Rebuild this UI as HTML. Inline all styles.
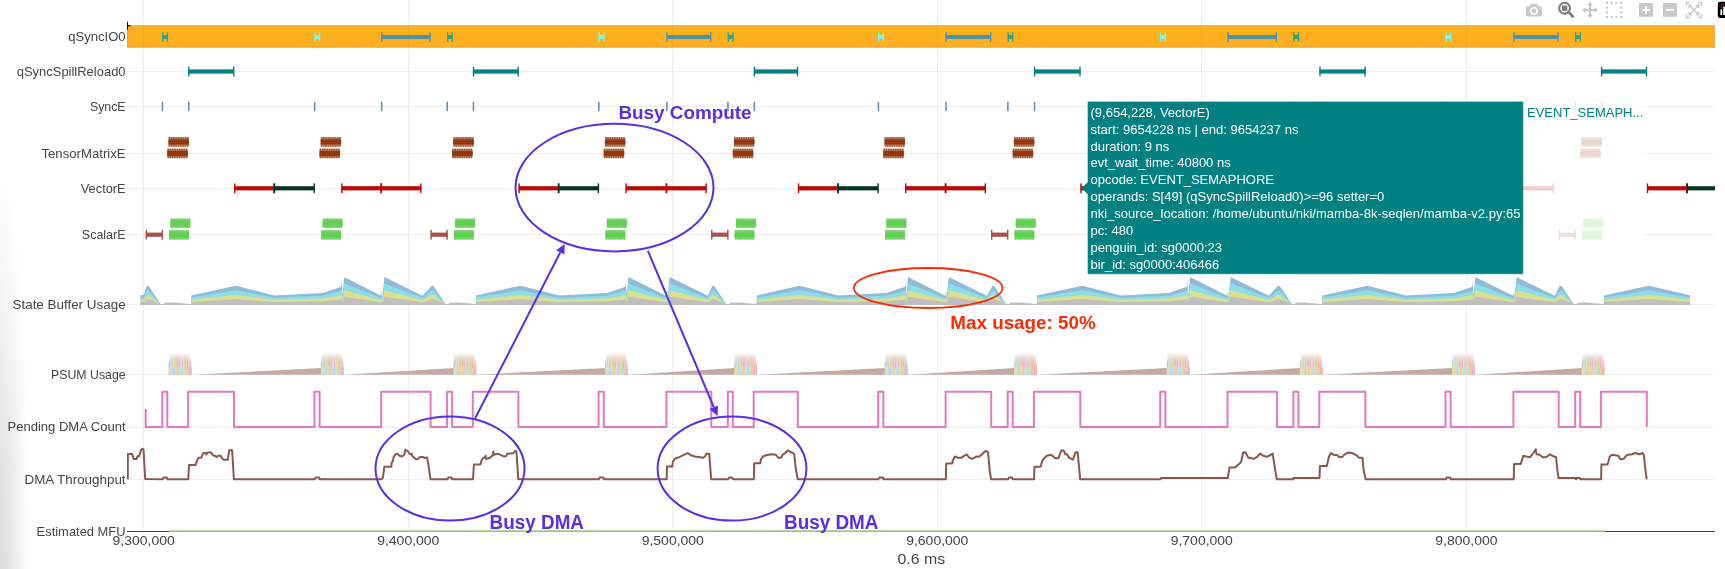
<!DOCTYPE html>
<html><head><meta charset="utf-8"><title>profile</title>
<style>
html,body{margin:0;padding:0;background:#fff;}
body{width:1725px;height:569px;overflow:hidden;position:relative;font-family:"Liberation Sans",sans-serif;}
#shade{position:absolute;left:0;top:150px;width:40px;height:419px;pointer-events:none;
 background:radial-gradient(ellipse 31px 410px at 0 100%, rgba(0,0,0,0.14) 0%, rgba(0,0,0,0.10) 30%, rgba(0,0,0,0.05) 62%, rgba(0,0,0,0.015) 85%, rgba(0,0,0,0) 100%);}
</style></head><body>
<svg width="1725" height="569" viewBox="0 0 1725 569" style="position:absolute;left:0;top:0;will-change:transform">
<defs>
<clipPath id="plot"><rect x="127" y="0" width="1588" height="540"/></clipPath>
<linearGradient id="fadeTop" x1="0" y1="0" x2="0" y2="1">
 <stop offset="0" stop-color="#fff" stop-opacity="0.95"/>
 <stop offset="0.1" stop-color="#fff" stop-opacity="0.65"/>
 <stop offset="0.25" stop-color="#fff" stop-opacity="0.28"/>
 <stop offset="0.4" stop-color="#fff" stop-opacity="0.06"/>
 <stop offset="0.5" stop-color="#fff" stop-opacity="0"/>
</linearGradient>
</defs>
<rect width="1725" height="569" fill="#fff"/>
<g fill="#eeeeee" shape-rendering="crispEdges">
<rect x="143" y="0" width="1" height="531"/>
<rect x="408" y="0" width="1" height="531"/>
<rect x="672" y="0" width="1" height="531"/>
<rect x="937" y="0" width="1" height="531"/>
<rect x="1201" y="0" width="1" height="531"/>
<rect x="1466" y="0" width="1" height="531"/>
<rect x="127" y="71" width="1588" height="1"/>
<rect x="127" y="106" width="1588" height="1"/>
<rect x="127" y="153" width="1588" height="1"/>
<rect x="127" y="188" width="1588" height="1"/>
<rect x="127" y="234" width="1588" height="1"/>
<rect x="127" y="304" width="1588" height="1"/>
<rect x="127" y="374" width="1588" height="1"/>
<rect x="127" y="427" width="1588" height="1"/>
<rect x="127" y="479" width="1588" height="1"/>
</g>
<g font-family="'Liberation Sans', sans-serif" font-size="12.6" fill="#444">
<text x="68.2" y="41.45" textLength="57.4" lengthAdjust="spacingAndGlyphs">qSyncIO0</text>
<text x="16.7" y="75.95" textLength="108.9" lengthAdjust="spacingAndGlyphs">qSyncSpillReload0</text>
<text x="89.9" y="110.95" textLength="35.7" lengthAdjust="spacingAndGlyphs">SyncE</text>
<text x="41.4" y="157.85" textLength="84.2" lengthAdjust="spacingAndGlyphs">TensorMatrixE</text>
<text x="80.8" y="192.75" textLength="44.8" lengthAdjust="spacingAndGlyphs">VectorE</text>
<text x="81.8" y="239.15" textLength="43.8" lengthAdjust="spacingAndGlyphs">ScalarE</text>
<text x="12.5" y="309.05" textLength="113.1" lengthAdjust="spacingAndGlyphs">State Buffer Usage</text>
<text x="51" y="379.15" textLength="74.6" lengthAdjust="spacingAndGlyphs">PSUM Usage</text>
<text x="7.5" y="431.45" textLength="118.1" lengthAdjust="spacingAndGlyphs">Pending DMA Count</text>
<text x="24.5" y="483.75" textLength="101.1" lengthAdjust="spacingAndGlyphs">DMA Throughput</text>
<text x="36.6" y="535.65" textLength="89" lengthAdjust="spacingAndGlyphs">Estimated MFU</text>
</g>
<g font-family="'Liberation Sans', sans-serif" font-size="12.6" fill="#444" text-anchor="middle">
<text x="143.7" y="544.9" textLength="62.2" lengthAdjust="spacingAndGlyphs">9,300,000</text>
<text x="408.3" y="544.9" textLength="62.2" lengthAdjust="spacingAndGlyphs">9,400,000</text>
<text x="672.8" y="544.9" textLength="62.2" lengthAdjust="spacingAndGlyphs">9,500,000</text>
<text x="937.3" y="544.9" textLength="62.2" lengthAdjust="spacingAndGlyphs">9,600,000</text>
<text x="1201.8" y="544.9" textLength="62.2" lengthAdjust="spacingAndGlyphs">9,700,000</text>
<text x="1466.4" y="544.9" textLength="62.2" lengthAdjust="spacingAndGlyphs">9,800,000</text>
</g>
<text x="921.3" y="563.9" font-family="'Liberation Sans', sans-serif" font-size="14.6" fill="#444" text-anchor="middle" textLength="47.7" lengthAdjust="spacingAndGlyphs">0.6 ms</text>
<g clip-path="url(#plot)">
<path d="M140.5,305L140.5,304.6L140.5,295.1L144,295.1L146.6,285.9L148.6,285.9L160.9,304.6L163.5,304.6L165,304.6L174,304.6L190.7,304.6L190.9,304.6L191.2,304.6L191.2,295.4L234.7,285.9L237.1,285.9L274.5,295.5L322.5,293L324.2,292.4L341.2,286.7L341.6,280.6L342,287.6L342.7,295.6L344.2,277L380.9,295.8L381.7,290.6L382.2,298.6L384.4,277L422.6,295.8L431.6,285.9L433.6,285.9L445.8,304.6L448.3,304.6L449.8,304.6L458.8,304.6L475.4,304.6L475.6,304.6L475.9,304.6L475.9,295.4L519.1,285.9L521.5,285.9L558.9,295.5L606.7,293L608.4,292.4L625.4,286.7L625.8,280.6L626.2,287.6L626.9,295.6L628.4,277L666.1,295.8L666.9,290.6L667.4,298.6L669.6,277L707.8,295.8L712.3,285.9L714.3,285.9L726.5,304.6L729,304.6L730.5,304.6L739.5,304.6L756.3,304.6L756.5,304.6L756.8,304.6L756.8,295.4L798.5,285.9L800.9,285.9L838.3,295.5L886.3,293L888,292.4L905,286.7L905.4,280.6L905.8,287.6L906.5,295.6L908,277L945.3,295.8L946.1,290.6L946.6,298.6L948.8,277L987,295.8L992.2,285.9L994.2,285.9L1006.4,304.6L1008.9,304.6L1010.4,304.6L1019.4,304.6L1036.5,304.6L1036.7,304.6L1037,304.6L1037,295.4L1081,285.9L1083.4,285.9L1120.8,295.5L1168.3,293L1170,292.4L1187,286.7L1187.4,280.6L1187.8,287.6L1188.5,295.6L1190,277L1227.2,295.8L1228,290.6L1228.5,298.6L1230.7,277L1268.9,295.8L1277.9,285.9L1279.9,285.9L1292.1,304.6L1294.6,304.6L1296.1,304.6L1305.1,304.6L1321.9,304.6L1322.1,304.6L1322.4,304.6L1322.4,295.4L1366.1,285.9L1368.5,285.9L1405.9,295.5L1453.6,293L1455.3,292.4L1472.3,286.7L1472.7,280.6L1473.1,287.6L1473.8,295.6L1475.3,277L1513.1,295.8L1513.9,290.6L1514.4,298.6L1516.6,277L1554.8,295.8L1559.7,285.9L1561.7,285.9L1573.9,304.6L1576.4,304.6L1577.9,304.6L1586.9,304.6L1603.5,304.6L1603.7,304.6L1604,304.6L1604,295.4L1647.5,285.9L1649.9,285.9L1689.9,295.3L1689.9,304.6L1689.9,305Z" fill="#8fbbd9"/>
<path d="M140.5,305L140.5,304.6L140.5,297.38L144,297.38L146.6,290.39L148.6,290.39L160.9,304.6L163.5,304.6L165,304.6L174,304.6L190.7,304.6L190.9,304.6L191.2,304.6L191.2,297.61L234.7,290.39L237.1,290.39L274.5,297.68L322.5,295.78L324.2,295.33L341.2,291L341.6,286.36L342,291.68L342.7,297.76L344.2,283.62L380.9,297.91L381.7,293.96L382.2,300.04L384.4,283.62L422.6,297.91L431.6,290.39L433.6,290.39L445.8,304.6L448.3,304.6L449.8,304.6L458.8,304.6L475.4,304.6L475.6,304.6L475.9,304.6L475.9,297.61L519.1,290.39L521.5,290.39L558.9,297.68L606.7,295.78L608.4,295.33L625.4,291L625.8,286.36L626.2,291.68L626.9,297.76L628.4,283.62L666.1,297.91L666.9,293.96L667.4,300.04L669.6,283.62L707.8,297.91L712.3,290.39L714.3,290.39L726.5,304.6L729,304.6L730.5,304.6L739.5,304.6L756.3,304.6L756.5,304.6L756.8,304.6L756.8,297.61L798.5,290.39L800.9,290.39L838.3,297.68L886.3,295.78L888,295.33L905,291L905.4,286.36L905.8,291.68L906.5,297.76L908,283.62L945.3,297.91L946.1,293.96L946.6,300.04L948.8,283.62L987,297.91L992.2,290.39L994.2,290.39L1006.4,304.6L1008.9,304.6L1010.4,304.6L1019.4,304.6L1036.5,304.6L1036.7,304.6L1037,304.6L1037,297.61L1081,290.39L1083.4,290.39L1120.8,297.68L1168.3,295.78L1170,295.33L1187,291L1187.4,286.36L1187.8,291.68L1188.5,297.76L1190,283.62L1227.2,297.91L1228,293.96L1228.5,300.04L1230.7,283.62L1268.9,297.91L1277.9,290.39L1279.9,290.39L1292.1,304.6L1294.6,304.6L1296.1,304.6L1305.1,304.6L1321.9,304.6L1322.1,304.6L1322.4,304.6L1322.4,297.61L1366.1,290.39L1368.5,290.39L1405.9,297.68L1453.6,295.78L1455.3,295.33L1472.3,291L1472.7,286.36L1473.1,291.68L1473.8,297.76L1475.3,283.62L1513.1,297.91L1513.9,293.96L1514.4,300.04L1516.6,283.62L1554.8,297.91L1559.7,290.39L1561.7,290.39L1573.9,304.6L1576.4,304.6L1577.9,304.6L1586.9,304.6L1603.5,304.6L1603.7,304.6L1604,304.6L1604,297.61L1647.5,290.39L1649.9,290.39L1689.9,297.53L1689.9,304.6L1689.9,305Z" fill="#8bdee7"/>
<path d="M140.5,305L140.5,304.6L140.5,299.66L144,299.66L146.6,294.88L148.6,294.88L160.9,304.6L163.5,304.6L165,304.6L174,304.6L190.7,304.6L190.9,304.6L191.2,304.6L191.2,299.82L234.7,294.88L237.1,294.88L274.5,299.87L322.5,298.57L324.2,298.26L341.2,295.29L341.6,292.12L342,295.76L342.7,299.92L344.2,290.25L380.9,300.02L381.7,297.32L382.2,301.48L384.4,290.25L422.6,300.02L431.6,294.88L433.6,294.88L445.8,304.6L448.3,304.6L449.8,304.6L458.8,304.6L475.4,304.6L475.6,304.6L475.9,304.6L475.9,299.82L519.1,294.88L521.5,294.88L558.9,299.87L606.7,298.57L608.4,298.26L625.4,295.29L625.8,292.12L626.2,295.76L626.9,299.92L628.4,290.25L666.1,300.02L666.9,297.32L667.4,301.48L669.6,290.25L707.8,300.02L712.3,294.88L714.3,294.88L726.5,304.6L729,304.6L730.5,304.6L739.5,304.6L756.3,304.6L756.5,304.6L756.8,304.6L756.8,299.82L798.5,294.88L800.9,294.88L838.3,299.87L886.3,298.57L888,298.26L905,295.29L905.4,292.12L905.8,295.76L906.5,299.92L908,290.25L945.3,300.02L946.1,297.32L946.6,301.48L948.8,290.25L987,300.02L992.2,294.88L994.2,294.88L1006.4,304.6L1008.9,304.6L1010.4,304.6L1019.4,304.6L1036.5,304.6L1036.7,304.6L1037,304.6L1037,299.82L1081,294.88L1083.4,294.88L1120.8,299.87L1168.3,298.57L1170,298.26L1187,295.29L1187.4,292.12L1187.8,295.76L1188.5,299.92L1190,290.25L1227.2,300.02L1228,297.32L1228.5,301.48L1230.7,290.25L1268.9,300.02L1277.9,294.88L1279.9,294.88L1292.1,304.6L1294.6,304.6L1296.1,304.6L1305.1,304.6L1321.9,304.6L1322.1,304.6L1322.4,304.6L1322.4,299.82L1366.1,294.88L1368.5,294.88L1405.9,299.87L1453.6,298.57L1455.3,298.26L1472.3,295.29L1472.7,292.12L1473.1,295.76L1473.8,299.92L1475.3,290.25L1513.1,300.02L1513.9,297.32L1514.4,301.48L1516.6,290.25L1554.8,300.02L1559.7,294.88L1561.7,294.88L1573.9,304.6L1576.4,304.6L1577.9,304.6L1586.9,304.6L1603.5,304.6L1603.7,304.6L1604,304.6L1604,299.82L1647.5,294.88L1649.9,294.88L1689.9,299.76L1689.9,304.6L1689.9,305Z" fill="#dddf90"/>
<path d="M140.5,305L140.5,304.6L140.5,301.94L144,301.94L146.6,299.36L148.6,299.36L160.9,303.9L163.5,304.2L165,302.4L174,302.6L190.7,304.1L190.9,304.6L191.2,304.6L191.2,302.02L234.7,299.36L237.1,299.36L274.5,302.05L322.5,301.35L324.2,301.18L341.2,299.59L341.6,297.88L342,299.84L342.7,302.08L344.2,296.87L380.9,302.14L381.7,300.68L382.2,302.92L384.4,296.87L422.6,302.14L431.6,299.36L433.6,299.36L445.8,303.9L448.3,304.2L449.8,302.4L458.8,302.6L475.4,304.1L475.6,304.6L475.9,304.6L475.9,302.02L519.1,299.36L521.5,299.36L558.9,302.05L606.7,301.35L608.4,301.18L625.4,299.59L625.8,297.88L626.2,299.84L626.9,302.08L628.4,296.87L666.1,302.14L666.9,300.68L667.4,302.92L669.6,296.87L707.8,302.14L712.3,299.36L714.3,299.36L726.5,303.9L729,304.2L730.5,302.4L739.5,302.6L756.3,304.1L756.5,304.6L756.8,304.6L756.8,302.02L798.5,299.36L800.9,299.36L838.3,302.05L886.3,301.35L888,301.18L905,299.59L905.4,297.88L905.8,299.84L906.5,302.08L908,296.87L945.3,302.14L946.1,300.68L946.6,302.92L948.8,296.87L987,302.14L992.2,299.36L994.2,299.36L1006.4,303.9L1008.9,304.2L1010.4,302.4L1019.4,302.6L1036.5,304.1L1036.7,304.6L1037,304.6L1037,302.02L1081,299.36L1083.4,299.36L1120.8,302.05L1168.3,301.35L1170,301.18L1187,299.59L1187.4,297.88L1187.8,299.84L1188.5,302.08L1190,296.87L1227.2,302.14L1228,300.68L1228.5,302.92L1230.7,296.87L1268.9,302.14L1277.9,299.36L1279.9,299.36L1292.1,303.9L1294.6,304.2L1296.1,302.4L1305.1,302.6L1321.9,304.1L1322.1,304.6L1322.4,304.6L1322.4,302.02L1366.1,299.36L1368.5,299.36L1405.9,302.05L1453.6,301.35L1455.3,301.18L1472.3,299.59L1472.7,297.88L1473.1,299.84L1473.8,302.08L1475.3,296.87L1513.1,302.14L1513.9,300.68L1514.4,302.92L1516.6,296.87L1554.8,302.14L1559.7,299.36L1561.7,299.36L1573.9,303.9L1576.4,304.2L1577.9,302.4L1586.9,302.6L1603.5,304.1L1603.7,304.6L1604,304.6L1604,302.02L1647.5,299.36L1649.9,299.36L1689.9,302L1689.9,304.6L1689.9,305Z" fill="#bfbfbf"/>
<path d="M192.1,374.7 L321.1,368 L321.1,374.7Z" fill="#c5aaa4"/>
<path d="M344.3,374.7 L453.7,368 L453.7,374.7Z" fill="#c5aaa4"/>
<path d="M476.9,374.7 L605.3,368 L605.3,374.7Z" fill="#c5aaa4"/>
<path d="M628.5,374.7 L734.4,368 L734.4,374.7Z" fill="#c5aaa4"/>
<path d="M757.6,374.7 L884.9,368 L884.9,374.7Z" fill="#c5aaa4"/>
<path d="M908.1,374.7 L1014.3,368 L1014.3,374.7Z" fill="#c5aaa4"/>
<path d="M1037.5,374.7 L1166.9,368 L1166.9,374.7Z" fill="#c5aaa4"/>
<path d="M1190.1,374.7 L1300,368 L1300,374.7Z" fill="#c5aaa4"/>
<path d="M1323.2,374.7 L1452.2,368 L1452.2,374.7Z" fill="#c5aaa4"/>
<path d="M1475.4,374.7 L1581.8,368 L1581.8,374.7Z" fill="#c5aaa4"/>
<g opacity="0.78">
<rect x="168.6" y="353.6" width="1.69" height="21.1" fill="#c9b2ad"/>
<rect x="168.6" y="353.6" width="1.69" height="7.5" fill="#d9c2bc" opacity="0.6"/>
<path d="M168.6,374.7 L168.8,367.6 L169.91,365.6 L170.29,374.7Z" fill="#dbdb8d"/>
<rect x="170.24" y="353.6" width="1.69" height="21.1" fill="#9edae5"/>
<rect x="170.24" y="353.6" width="1.69" height="7.5" fill="#aec7e8" opacity="0.6"/>
<path d="M170.24,374.7 L170.44,366.3 L171.56,364.3 L171.94,374.7Z" fill="#dbdb8d"/>
<rect x="171.89" y="353.6" width="1.69" height="21.1" fill="#aec7e8"/>
<rect x="171.89" y="353.6" width="1.69" height="7.5" fill="#ffbb78" opacity="0.6"/>
<path d="M171.89,374.7 L172.09,370.2 L173.2,368.2 L173.58,374.7Z" fill="#9edae5"/>
<rect x="173.53" y="353.6" width="1.69" height="21.1" fill="#ffbb78"/>
<rect x="173.53" y="353.6" width="1.69" height="7.5" fill="#98df8a" opacity="0.6"/>
<path d="M173.53,374.7 L173.73,368.9 L174.84,366.9 L175.22,374.7Z" fill="#aec7e8"/>
<rect x="175.17" y="353.6" width="1.69" height="21.1" fill="#98df8a"/>
<rect x="175.17" y="353.6" width="1.69" height="7.5" fill="#ff9896" opacity="0.6"/>
<path d="M175.17,374.7 L175.37,367.6 L176.49,365.6 L176.86,374.7Z" fill="#dbdb8d"/>
<rect x="176.81" y="353.6" width="1.69" height="21.1" fill="#ff9896"/>
<rect x="176.81" y="353.6" width="1.69" height="7.5" fill="#d9c2bc" opacity="0.6"/>
<path d="M176.81,374.7 L177.01,366.3 L178.13,364.3 L178.51,374.7Z" fill="#ffbb78"/>
<rect x="178.46" y="353.6" width="1.69" height="21.1" fill="#c5b0d5"/>
<rect x="178.46" y="353.6" width="1.69" height="7.5" fill="#c9b2ad" opacity="0.6"/>
<path d="M178.46,374.7 L178.66,370.2 L179.77,368.2 L180.15,374.7Z" fill="#dbdb8d"/>
<rect x="180.1" y="353.6" width="1.69" height="21.1" fill="#f7b6d2"/>
<rect x="180.1" y="353.6" width="1.69" height="7.5" fill="#c9b2ad" opacity="0.6"/>
<path d="M180.1,374.7 L180.3,368.9 L181.41,366.9 L181.79,374.7Z" fill="#9edae5"/>
<rect x="181.74" y="353.6" width="1.69" height="21.1" fill="#c5b0d5"/>
<rect x="181.74" y="353.6" width="1.69" height="7.5" fill="#ffbb78" opacity="0.6"/>
<path d="M181.74,374.7 L181.94,367.6 L183.06,365.6 L183.44,374.7Z" fill="#9edae5"/>
<rect x="183.39" y="353.6" width="1.69" height="21.1" fill="#ffbb78"/>
<rect x="183.39" y="353.6" width="1.69" height="7.5" fill="#98df8a" opacity="0.6"/>
<path d="M183.39,374.7 L183.59,366.3 L184.7,364.3 L185.08,374.7Z" fill="#dbdb8d"/>
<rect x="185.03" y="353.6" width="1.69" height="21.1" fill="#98df8a"/>
<rect x="185.03" y="353.6" width="1.69" height="7.5" fill="#ff9896" opacity="0.6"/>
<path d="M185.03,374.7 L185.23,370.2 L186.34,368.2 L186.72,374.7Z" fill="#aec7e8"/>
<rect x="186.67" y="353.6" width="1.69" height="21.1" fill="#ff9896"/>
<rect x="186.67" y="353.6" width="1.69" height="7.5" fill="#f7b6d2" opacity="0.6"/>
<path d="M186.67,374.7 L186.87,368.9 L187.99,366.9 L188.36,374.7Z" fill="#ffbb78"/>
<rect x="188.31" y="353.6" width="1.69" height="21.1" fill="#ffbb78"/>
<rect x="188.31" y="353.6" width="1.69" height="7.5" fill="#c5b0d5" opacity="0.6"/>
<path d="M188.31,374.7 L188.51,367.6 L189.63,365.6 L190.01,374.7Z" fill="#ff9896"/>
<rect x="189.96" y="353.6" width="1.69" height="21.1" fill="#c5b0d5"/>
<rect x="189.96" y="353.6" width="1.69" height="7.5" fill="#e6dff0" opacity="0.6"/>
<path d="M189.96,374.7 L190.16,366.3 L191.27,364.3 L191.65,374.7Z" fill="#c5b0d5"/>
<rect x="168.1" y="353.1" width="24" height="21.6" fill="url(#fadeTop)"/>
<path d="M168.3,366.7 L168.3,352.6 L170.8,352.6Z" fill="#fff" opacity="0.85"/>
<path d="M191.9,368.7 L191.9,352.6 L189,352.6Z" fill="#fff" opacity="0.85"/>
</g>
<g opacity="0.78">
<rect x="320.8" y="353.6" width="1.69" height="21.1" fill="#c9b2ad"/>
<rect x="320.8" y="353.6" width="1.69" height="7.5" fill="#d9c2bc" opacity="0.6"/>
<path d="M320.8,374.7 L321,367.6 L322.11,365.6 L322.49,374.7Z" fill="#dbdb8d"/>
<rect x="322.44" y="353.6" width="1.69" height="21.1" fill="#9edae5"/>
<rect x="322.44" y="353.6" width="1.69" height="7.5" fill="#aec7e8" opacity="0.6"/>
<path d="M322.44,374.7 L322.64,366.3 L323.76,364.3 L324.14,374.7Z" fill="#dbdb8d"/>
<rect x="324.09" y="353.6" width="1.69" height="21.1" fill="#aec7e8"/>
<rect x="324.09" y="353.6" width="1.69" height="7.5" fill="#ffbb78" opacity="0.6"/>
<path d="M324.09,374.7 L324.29,370.2 L325.4,368.2 L325.78,374.7Z" fill="#9edae5"/>
<rect x="325.73" y="353.6" width="1.69" height="21.1" fill="#ffbb78"/>
<rect x="325.73" y="353.6" width="1.69" height="7.5" fill="#98df8a" opacity="0.6"/>
<path d="M325.73,374.7 L325.93,368.9 L327.04,366.9 L327.42,374.7Z" fill="#aec7e8"/>
<rect x="327.37" y="353.6" width="1.69" height="21.1" fill="#98df8a"/>
<rect x="327.37" y="353.6" width="1.69" height="7.5" fill="#ff9896" opacity="0.6"/>
<path d="M327.37,374.7 L327.57,367.6 L328.69,365.6 L329.06,374.7Z" fill="#dbdb8d"/>
<rect x="329.01" y="353.6" width="1.69" height="21.1" fill="#ff9896"/>
<rect x="329.01" y="353.6" width="1.69" height="7.5" fill="#d9c2bc" opacity="0.6"/>
<path d="M329.01,374.7 L329.21,366.3 L330.33,364.3 L330.71,374.7Z" fill="#ffbb78"/>
<rect x="330.66" y="353.6" width="1.69" height="21.1" fill="#c5b0d5"/>
<rect x="330.66" y="353.6" width="1.69" height="7.5" fill="#c9b2ad" opacity="0.6"/>
<path d="M330.66,374.7 L330.86,370.2 L331.97,368.2 L332.35,374.7Z" fill="#dbdb8d"/>
<rect x="332.3" y="353.6" width="1.69" height="21.1" fill="#f7b6d2"/>
<rect x="332.3" y="353.6" width="1.69" height="7.5" fill="#c9b2ad" opacity="0.6"/>
<path d="M332.3,374.7 L332.5,368.9 L333.61,366.9 L333.99,374.7Z" fill="#9edae5"/>
<rect x="333.94" y="353.6" width="1.69" height="21.1" fill="#c5b0d5"/>
<rect x="333.94" y="353.6" width="1.69" height="7.5" fill="#ffbb78" opacity="0.6"/>
<path d="M333.94,374.7 L334.14,367.6 L335.26,365.6 L335.64,374.7Z" fill="#9edae5"/>
<rect x="335.59" y="353.6" width="1.69" height="21.1" fill="#ffbb78"/>
<rect x="335.59" y="353.6" width="1.69" height="7.5" fill="#98df8a" opacity="0.6"/>
<path d="M335.59,374.7 L335.79,366.3 L336.9,364.3 L337.28,374.7Z" fill="#dbdb8d"/>
<rect x="337.23" y="353.6" width="1.69" height="21.1" fill="#98df8a"/>
<rect x="337.23" y="353.6" width="1.69" height="7.5" fill="#ff9896" opacity="0.6"/>
<path d="M337.23,374.7 L337.43,370.2 L338.54,368.2 L338.92,374.7Z" fill="#aec7e8"/>
<rect x="338.87" y="353.6" width="1.69" height="21.1" fill="#ff9896"/>
<rect x="338.87" y="353.6" width="1.69" height="7.5" fill="#f7b6d2" opacity="0.6"/>
<path d="M338.87,374.7 L339.07,368.9 L340.19,366.9 L340.56,374.7Z" fill="#ffbb78"/>
<rect x="340.51" y="353.6" width="1.69" height="21.1" fill="#ffbb78"/>
<rect x="340.51" y="353.6" width="1.69" height="7.5" fill="#c5b0d5" opacity="0.6"/>
<path d="M340.51,374.7 L340.71,367.6 L341.83,365.6 L342.21,374.7Z" fill="#ff9896"/>
<rect x="342.16" y="353.6" width="1.69" height="21.1" fill="#c5b0d5"/>
<rect x="342.16" y="353.6" width="1.69" height="7.5" fill="#e6dff0" opacity="0.6"/>
<path d="M342.16,374.7 L342.36,366.3 L343.47,364.3 L343.85,374.7Z" fill="#c5b0d5"/>
<rect x="320.3" y="353.1" width="24" height="21.6" fill="url(#fadeTop)"/>
<path d="M320.5,366.7 L320.5,352.6 L323,352.6Z" fill="#fff" opacity="0.85"/>
<path d="M344.1,368.7 L344.1,352.6 L341.2,352.6Z" fill="#fff" opacity="0.85"/>
</g>
<g opacity="0.78">
<rect x="453.4" y="353.6" width="1.69" height="21.1" fill="#c9b2ad"/>
<rect x="453.4" y="353.6" width="1.69" height="7.5" fill="#d9c2bc" opacity="0.6"/>
<path d="M453.4,374.7 L453.6,367.6 L454.71,365.6 L455.09,374.7Z" fill="#dbdb8d"/>
<rect x="455.04" y="353.6" width="1.69" height="21.1" fill="#9edae5"/>
<rect x="455.04" y="353.6" width="1.69" height="7.5" fill="#aec7e8" opacity="0.6"/>
<path d="M455.04,374.7 L455.24,366.3 L456.36,364.3 L456.74,374.7Z" fill="#dbdb8d"/>
<rect x="456.69" y="353.6" width="1.69" height="21.1" fill="#aec7e8"/>
<rect x="456.69" y="353.6" width="1.69" height="7.5" fill="#ffbb78" opacity="0.6"/>
<path d="M456.69,374.7 L456.89,370.2 L458,368.2 L458.38,374.7Z" fill="#9edae5"/>
<rect x="458.33" y="353.6" width="1.69" height="21.1" fill="#ffbb78"/>
<rect x="458.33" y="353.6" width="1.69" height="7.5" fill="#98df8a" opacity="0.6"/>
<path d="M458.33,374.7 L458.53,368.9 L459.64,366.9 L460.02,374.7Z" fill="#aec7e8"/>
<rect x="459.97" y="353.6" width="1.69" height="21.1" fill="#98df8a"/>
<rect x="459.97" y="353.6" width="1.69" height="7.5" fill="#ff9896" opacity="0.6"/>
<path d="M459.97,374.7 L460.17,367.6 L461.29,365.6 L461.66,374.7Z" fill="#dbdb8d"/>
<rect x="461.61" y="353.6" width="1.69" height="21.1" fill="#ff9896"/>
<rect x="461.61" y="353.6" width="1.69" height="7.5" fill="#d9c2bc" opacity="0.6"/>
<path d="M461.61,374.7 L461.81,366.3 L462.93,364.3 L463.31,374.7Z" fill="#ffbb78"/>
<rect x="463.26" y="353.6" width="1.69" height="21.1" fill="#c5b0d5"/>
<rect x="463.26" y="353.6" width="1.69" height="7.5" fill="#c9b2ad" opacity="0.6"/>
<path d="M463.26,374.7 L463.46,370.2 L464.57,368.2 L464.95,374.7Z" fill="#dbdb8d"/>
<rect x="464.9" y="353.6" width="1.69" height="21.1" fill="#f7b6d2"/>
<rect x="464.9" y="353.6" width="1.69" height="7.5" fill="#c9b2ad" opacity="0.6"/>
<path d="M464.9,374.7 L465.1,368.9 L466.21,366.9 L466.59,374.7Z" fill="#9edae5"/>
<rect x="466.54" y="353.6" width="1.69" height="21.1" fill="#c5b0d5"/>
<rect x="466.54" y="353.6" width="1.69" height="7.5" fill="#ffbb78" opacity="0.6"/>
<path d="M466.54,374.7 L466.74,367.6 L467.86,365.6 L468.24,374.7Z" fill="#9edae5"/>
<rect x="468.19" y="353.6" width="1.69" height="21.1" fill="#ffbb78"/>
<rect x="468.19" y="353.6" width="1.69" height="7.5" fill="#98df8a" opacity="0.6"/>
<path d="M468.19,374.7 L468.39,366.3 L469.5,364.3 L469.88,374.7Z" fill="#dbdb8d"/>
<rect x="469.83" y="353.6" width="1.69" height="21.1" fill="#98df8a"/>
<rect x="469.83" y="353.6" width="1.69" height="7.5" fill="#ff9896" opacity="0.6"/>
<path d="M469.83,374.7 L470.03,370.2 L471.14,368.2 L471.52,374.7Z" fill="#aec7e8"/>
<rect x="471.47" y="353.6" width="1.69" height="21.1" fill="#ff9896"/>
<rect x="471.47" y="353.6" width="1.69" height="7.5" fill="#f7b6d2" opacity="0.6"/>
<path d="M471.47,374.7 L471.67,368.9 L472.79,366.9 L473.16,374.7Z" fill="#ffbb78"/>
<rect x="473.11" y="353.6" width="1.69" height="21.1" fill="#ffbb78"/>
<rect x="473.11" y="353.6" width="1.69" height="7.5" fill="#c5b0d5" opacity="0.6"/>
<path d="M473.11,374.7 L473.31,367.6 L474.43,365.6 L474.81,374.7Z" fill="#ff9896"/>
<rect x="474.76" y="353.6" width="1.69" height="21.1" fill="#c5b0d5"/>
<rect x="474.76" y="353.6" width="1.69" height="7.5" fill="#e6dff0" opacity="0.6"/>
<path d="M474.76,374.7 L474.96,366.3 L476.07,364.3 L476.45,374.7Z" fill="#c5b0d5"/>
<rect x="452.9" y="353.1" width="24" height="21.6" fill="url(#fadeTop)"/>
<path d="M453.1,366.7 L453.1,352.6 L455.6,352.6Z" fill="#fff" opacity="0.85"/>
<path d="M476.7,368.7 L476.7,352.6 L473.8,352.6Z" fill="#fff" opacity="0.85"/>
</g>
<g opacity="0.78">
<rect x="605" y="353.6" width="1.69" height="21.1" fill="#c9b2ad"/>
<rect x="605" y="353.6" width="1.69" height="7.5" fill="#d9c2bc" opacity="0.6"/>
<path d="M605,374.7 L605.2,367.6 L606.31,365.6 L606.69,374.7Z" fill="#dbdb8d"/>
<rect x="606.64" y="353.6" width="1.69" height="21.1" fill="#9edae5"/>
<rect x="606.64" y="353.6" width="1.69" height="7.5" fill="#aec7e8" opacity="0.6"/>
<path d="M606.64,374.7 L606.84,366.3 L607.96,364.3 L608.34,374.7Z" fill="#dbdb8d"/>
<rect x="608.29" y="353.6" width="1.69" height="21.1" fill="#aec7e8"/>
<rect x="608.29" y="353.6" width="1.69" height="7.5" fill="#ffbb78" opacity="0.6"/>
<path d="M608.29,374.7 L608.49,370.2 L609.6,368.2 L609.98,374.7Z" fill="#9edae5"/>
<rect x="609.93" y="353.6" width="1.69" height="21.1" fill="#ffbb78"/>
<rect x="609.93" y="353.6" width="1.69" height="7.5" fill="#98df8a" opacity="0.6"/>
<path d="M609.93,374.7 L610.13,368.9 L611.24,366.9 L611.62,374.7Z" fill="#aec7e8"/>
<rect x="611.57" y="353.6" width="1.69" height="21.1" fill="#98df8a"/>
<rect x="611.57" y="353.6" width="1.69" height="7.5" fill="#ff9896" opacity="0.6"/>
<path d="M611.57,374.7 L611.77,367.6 L612.89,365.6 L613.26,374.7Z" fill="#dbdb8d"/>
<rect x="613.21" y="353.6" width="1.69" height="21.1" fill="#ff9896"/>
<rect x="613.21" y="353.6" width="1.69" height="7.5" fill="#d9c2bc" opacity="0.6"/>
<path d="M613.21,374.7 L613.41,366.3 L614.53,364.3 L614.91,374.7Z" fill="#ffbb78"/>
<rect x="614.86" y="353.6" width="1.69" height="21.1" fill="#c5b0d5"/>
<rect x="614.86" y="353.6" width="1.69" height="7.5" fill="#c9b2ad" opacity="0.6"/>
<path d="M614.86,374.7 L615.06,370.2 L616.17,368.2 L616.55,374.7Z" fill="#dbdb8d"/>
<rect x="616.5" y="353.6" width="1.69" height="21.1" fill="#f7b6d2"/>
<rect x="616.5" y="353.6" width="1.69" height="7.5" fill="#c9b2ad" opacity="0.6"/>
<path d="M616.5,374.7 L616.7,368.9 L617.81,366.9 L618.19,374.7Z" fill="#9edae5"/>
<rect x="618.14" y="353.6" width="1.69" height="21.1" fill="#c5b0d5"/>
<rect x="618.14" y="353.6" width="1.69" height="7.5" fill="#ffbb78" opacity="0.6"/>
<path d="M618.14,374.7 L618.34,367.6 L619.46,365.6 L619.84,374.7Z" fill="#9edae5"/>
<rect x="619.79" y="353.6" width="1.69" height="21.1" fill="#ffbb78"/>
<rect x="619.79" y="353.6" width="1.69" height="7.5" fill="#98df8a" opacity="0.6"/>
<path d="M619.79,374.7 L619.99,366.3 L621.1,364.3 L621.48,374.7Z" fill="#dbdb8d"/>
<rect x="621.43" y="353.6" width="1.69" height="21.1" fill="#98df8a"/>
<rect x="621.43" y="353.6" width="1.69" height="7.5" fill="#ff9896" opacity="0.6"/>
<path d="M621.43,374.7 L621.63,370.2 L622.74,368.2 L623.12,374.7Z" fill="#aec7e8"/>
<rect x="623.07" y="353.6" width="1.69" height="21.1" fill="#ff9896"/>
<rect x="623.07" y="353.6" width="1.69" height="7.5" fill="#f7b6d2" opacity="0.6"/>
<path d="M623.07,374.7 L623.27,368.9 L624.39,366.9 L624.76,374.7Z" fill="#ffbb78"/>
<rect x="624.71" y="353.6" width="1.69" height="21.1" fill="#ffbb78"/>
<rect x="624.71" y="353.6" width="1.69" height="7.5" fill="#c5b0d5" opacity="0.6"/>
<path d="M624.71,374.7 L624.91,367.6 L626.03,365.6 L626.41,374.7Z" fill="#ff9896"/>
<rect x="626.36" y="353.6" width="1.69" height="21.1" fill="#c5b0d5"/>
<rect x="626.36" y="353.6" width="1.69" height="7.5" fill="#e6dff0" opacity="0.6"/>
<path d="M626.36,374.7 L626.56,366.3 L627.67,364.3 L628.05,374.7Z" fill="#c5b0d5"/>
<rect x="604.5" y="353.1" width="24" height="21.6" fill="url(#fadeTop)"/>
<path d="M604.7,366.7 L604.7,352.6 L607.2,352.6Z" fill="#fff" opacity="0.85"/>
<path d="M628.3,368.7 L628.3,352.6 L625.4,352.6Z" fill="#fff" opacity="0.85"/>
</g>
<g opacity="0.78">
<rect x="734.1" y="353.6" width="1.69" height="21.1" fill="#c9b2ad"/>
<rect x="734.1" y="353.6" width="1.69" height="7.5" fill="#d9c2bc" opacity="0.6"/>
<path d="M734.1,374.7 L734.3,367.6 L735.41,365.6 L735.79,374.7Z" fill="#dbdb8d"/>
<rect x="735.74" y="353.6" width="1.69" height="21.1" fill="#9edae5"/>
<rect x="735.74" y="353.6" width="1.69" height="7.5" fill="#aec7e8" opacity="0.6"/>
<path d="M735.74,374.7 L735.94,366.3 L737.06,364.3 L737.44,374.7Z" fill="#dbdb8d"/>
<rect x="737.39" y="353.6" width="1.69" height="21.1" fill="#aec7e8"/>
<rect x="737.39" y="353.6" width="1.69" height="7.5" fill="#ffbb78" opacity="0.6"/>
<path d="M737.39,374.7 L737.59,370.2 L738.7,368.2 L739.08,374.7Z" fill="#9edae5"/>
<rect x="739.03" y="353.6" width="1.69" height="21.1" fill="#ffbb78"/>
<rect x="739.03" y="353.6" width="1.69" height="7.5" fill="#98df8a" opacity="0.6"/>
<path d="M739.03,374.7 L739.23,368.9 L740.34,366.9 L740.72,374.7Z" fill="#aec7e8"/>
<rect x="740.67" y="353.6" width="1.69" height="21.1" fill="#98df8a"/>
<rect x="740.67" y="353.6" width="1.69" height="7.5" fill="#ff9896" opacity="0.6"/>
<path d="M740.67,374.7 L740.87,367.6 L741.99,365.6 L742.36,374.7Z" fill="#dbdb8d"/>
<rect x="742.31" y="353.6" width="1.69" height="21.1" fill="#ff9896"/>
<rect x="742.31" y="353.6" width="1.69" height="7.5" fill="#d9c2bc" opacity="0.6"/>
<path d="M742.31,374.7 L742.51,366.3 L743.63,364.3 L744.01,374.7Z" fill="#ffbb78"/>
<rect x="743.96" y="353.6" width="1.69" height="21.1" fill="#c5b0d5"/>
<rect x="743.96" y="353.6" width="1.69" height="7.5" fill="#c9b2ad" opacity="0.6"/>
<path d="M743.96,374.7 L744.16,370.2 L745.27,368.2 L745.65,374.7Z" fill="#dbdb8d"/>
<rect x="745.6" y="353.6" width="1.69" height="21.1" fill="#f7b6d2"/>
<rect x="745.6" y="353.6" width="1.69" height="7.5" fill="#c9b2ad" opacity="0.6"/>
<path d="M745.6,374.7 L745.8,368.9 L746.91,366.9 L747.29,374.7Z" fill="#9edae5"/>
<rect x="747.24" y="353.6" width="1.69" height="21.1" fill="#c5b0d5"/>
<rect x="747.24" y="353.6" width="1.69" height="7.5" fill="#ffbb78" opacity="0.6"/>
<path d="M747.24,374.7 L747.44,367.6 L748.56,365.6 L748.94,374.7Z" fill="#9edae5"/>
<rect x="748.89" y="353.6" width="1.69" height="21.1" fill="#ffbb78"/>
<rect x="748.89" y="353.6" width="1.69" height="7.5" fill="#98df8a" opacity="0.6"/>
<path d="M748.89,374.7 L749.09,366.3 L750.2,364.3 L750.58,374.7Z" fill="#dbdb8d"/>
<rect x="750.53" y="353.6" width="1.69" height="21.1" fill="#98df8a"/>
<rect x="750.53" y="353.6" width="1.69" height="7.5" fill="#ff9896" opacity="0.6"/>
<path d="M750.53,374.7 L750.73,370.2 L751.84,368.2 L752.22,374.7Z" fill="#aec7e8"/>
<rect x="752.17" y="353.6" width="1.69" height="21.1" fill="#ff9896"/>
<rect x="752.17" y="353.6" width="1.69" height="7.5" fill="#f7b6d2" opacity="0.6"/>
<path d="M752.17,374.7 L752.37,368.9 L753.49,366.9 L753.86,374.7Z" fill="#ffbb78"/>
<rect x="753.81" y="353.6" width="1.69" height="21.1" fill="#ffbb78"/>
<rect x="753.81" y="353.6" width="1.69" height="7.5" fill="#c5b0d5" opacity="0.6"/>
<path d="M753.81,374.7 L754.01,367.6 L755.13,365.6 L755.51,374.7Z" fill="#ff9896"/>
<rect x="755.46" y="353.6" width="1.69" height="21.1" fill="#c5b0d5"/>
<rect x="755.46" y="353.6" width="1.69" height="7.5" fill="#e6dff0" opacity="0.6"/>
<path d="M755.46,374.7 L755.66,366.3 L756.77,364.3 L757.15,374.7Z" fill="#c5b0d5"/>
<rect x="733.6" y="353.1" width="24" height="21.6" fill="url(#fadeTop)"/>
<path d="M733.8,366.7 L733.8,352.6 L736.3,352.6Z" fill="#fff" opacity="0.85"/>
<path d="M757.4,368.7 L757.4,352.6 L754.5,352.6Z" fill="#fff" opacity="0.85"/>
</g>
<g opacity="0.78">
<rect x="884.6" y="353.6" width="1.69" height="21.1" fill="#c9b2ad"/>
<rect x="884.6" y="353.6" width="1.69" height="7.5" fill="#d9c2bc" opacity="0.6"/>
<path d="M884.6,374.7 L884.8,367.6 L885.91,365.6 L886.29,374.7Z" fill="#dbdb8d"/>
<rect x="886.24" y="353.6" width="1.69" height="21.1" fill="#9edae5"/>
<rect x="886.24" y="353.6" width="1.69" height="7.5" fill="#aec7e8" opacity="0.6"/>
<path d="M886.24,374.7 L886.44,366.3 L887.56,364.3 L887.94,374.7Z" fill="#dbdb8d"/>
<rect x="887.89" y="353.6" width="1.69" height="21.1" fill="#aec7e8"/>
<rect x="887.89" y="353.6" width="1.69" height="7.5" fill="#ffbb78" opacity="0.6"/>
<path d="M887.89,374.7 L888.09,370.2 L889.2,368.2 L889.58,374.7Z" fill="#9edae5"/>
<rect x="889.53" y="353.6" width="1.69" height="21.1" fill="#ffbb78"/>
<rect x="889.53" y="353.6" width="1.69" height="7.5" fill="#98df8a" opacity="0.6"/>
<path d="M889.53,374.7 L889.73,368.9 L890.84,366.9 L891.22,374.7Z" fill="#aec7e8"/>
<rect x="891.17" y="353.6" width="1.69" height="21.1" fill="#98df8a"/>
<rect x="891.17" y="353.6" width="1.69" height="7.5" fill="#ff9896" opacity="0.6"/>
<path d="M891.17,374.7 L891.37,367.6 L892.49,365.6 L892.86,374.7Z" fill="#dbdb8d"/>
<rect x="892.81" y="353.6" width="1.69" height="21.1" fill="#ff9896"/>
<rect x="892.81" y="353.6" width="1.69" height="7.5" fill="#d9c2bc" opacity="0.6"/>
<path d="M892.81,374.7 L893.01,366.3 L894.13,364.3 L894.51,374.7Z" fill="#ffbb78"/>
<rect x="894.46" y="353.6" width="1.69" height="21.1" fill="#c5b0d5"/>
<rect x="894.46" y="353.6" width="1.69" height="7.5" fill="#c9b2ad" opacity="0.6"/>
<path d="M894.46,374.7 L894.66,370.2 L895.77,368.2 L896.15,374.7Z" fill="#dbdb8d"/>
<rect x="896.1" y="353.6" width="1.69" height="21.1" fill="#f7b6d2"/>
<rect x="896.1" y="353.6" width="1.69" height="7.5" fill="#c9b2ad" opacity="0.6"/>
<path d="M896.1,374.7 L896.3,368.9 L897.41,366.9 L897.79,374.7Z" fill="#9edae5"/>
<rect x="897.74" y="353.6" width="1.69" height="21.1" fill="#c5b0d5"/>
<rect x="897.74" y="353.6" width="1.69" height="7.5" fill="#ffbb78" opacity="0.6"/>
<path d="M897.74,374.7 L897.94,367.6 L899.06,365.6 L899.44,374.7Z" fill="#9edae5"/>
<rect x="899.39" y="353.6" width="1.69" height="21.1" fill="#ffbb78"/>
<rect x="899.39" y="353.6" width="1.69" height="7.5" fill="#98df8a" opacity="0.6"/>
<path d="M899.39,374.7 L899.59,366.3 L900.7,364.3 L901.08,374.7Z" fill="#dbdb8d"/>
<rect x="901.03" y="353.6" width="1.69" height="21.1" fill="#98df8a"/>
<rect x="901.03" y="353.6" width="1.69" height="7.5" fill="#ff9896" opacity="0.6"/>
<path d="M901.03,374.7 L901.23,370.2 L902.34,368.2 L902.72,374.7Z" fill="#aec7e8"/>
<rect x="902.67" y="353.6" width="1.69" height="21.1" fill="#ff9896"/>
<rect x="902.67" y="353.6" width="1.69" height="7.5" fill="#f7b6d2" opacity="0.6"/>
<path d="M902.67,374.7 L902.87,368.9 L903.99,366.9 L904.36,374.7Z" fill="#ffbb78"/>
<rect x="904.31" y="353.6" width="1.69" height="21.1" fill="#ffbb78"/>
<rect x="904.31" y="353.6" width="1.69" height="7.5" fill="#c5b0d5" opacity="0.6"/>
<path d="M904.31,374.7 L904.51,367.6 L905.63,365.6 L906.01,374.7Z" fill="#ff9896"/>
<rect x="905.96" y="353.6" width="1.69" height="21.1" fill="#c5b0d5"/>
<rect x="905.96" y="353.6" width="1.69" height="7.5" fill="#e6dff0" opacity="0.6"/>
<path d="M905.96,374.7 L906.16,366.3 L907.27,364.3 L907.65,374.7Z" fill="#c5b0d5"/>
<rect x="884.1" y="353.1" width="24" height="21.6" fill="url(#fadeTop)"/>
<path d="M884.3,366.7 L884.3,352.6 L886.8,352.6Z" fill="#fff" opacity="0.85"/>
<path d="M907.9,368.7 L907.9,352.6 L905,352.6Z" fill="#fff" opacity="0.85"/>
</g>
<g opacity="0.78">
<rect x="1014" y="353.6" width="1.69" height="21.1" fill="#c9b2ad"/>
<rect x="1014" y="353.6" width="1.69" height="7.5" fill="#d9c2bc" opacity="0.6"/>
<path d="M1014,374.7 L1014.2,367.6 L1015.31,365.6 L1015.69,374.7Z" fill="#dbdb8d"/>
<rect x="1015.64" y="353.6" width="1.69" height="21.1" fill="#9edae5"/>
<rect x="1015.64" y="353.6" width="1.69" height="7.5" fill="#aec7e8" opacity="0.6"/>
<path d="M1015.64,374.7 L1015.84,366.3 L1016.96,364.3 L1017.34,374.7Z" fill="#dbdb8d"/>
<rect x="1017.29" y="353.6" width="1.69" height="21.1" fill="#aec7e8"/>
<rect x="1017.29" y="353.6" width="1.69" height="7.5" fill="#ffbb78" opacity="0.6"/>
<path d="M1017.29,374.7 L1017.49,370.2 L1018.6,368.2 L1018.98,374.7Z" fill="#9edae5"/>
<rect x="1018.93" y="353.6" width="1.69" height="21.1" fill="#ffbb78"/>
<rect x="1018.93" y="353.6" width="1.69" height="7.5" fill="#98df8a" opacity="0.6"/>
<path d="M1018.93,374.7 L1019.13,368.9 L1020.24,366.9 L1020.62,374.7Z" fill="#aec7e8"/>
<rect x="1020.57" y="353.6" width="1.69" height="21.1" fill="#98df8a"/>
<rect x="1020.57" y="353.6" width="1.69" height="7.5" fill="#ff9896" opacity="0.6"/>
<path d="M1020.57,374.7 L1020.77,367.6 L1021.89,365.6 L1022.26,374.7Z" fill="#dbdb8d"/>
<rect x="1022.21" y="353.6" width="1.69" height="21.1" fill="#ff9896"/>
<rect x="1022.21" y="353.6" width="1.69" height="7.5" fill="#d9c2bc" opacity="0.6"/>
<path d="M1022.21,374.7 L1022.41,366.3 L1023.53,364.3 L1023.91,374.7Z" fill="#ffbb78"/>
<rect x="1023.86" y="353.6" width="1.69" height="21.1" fill="#c5b0d5"/>
<rect x="1023.86" y="353.6" width="1.69" height="7.5" fill="#c9b2ad" opacity="0.6"/>
<path d="M1023.86,374.7 L1024.06,370.2 L1025.17,368.2 L1025.55,374.7Z" fill="#dbdb8d"/>
<rect x="1025.5" y="353.6" width="1.69" height="21.1" fill="#f7b6d2"/>
<rect x="1025.5" y="353.6" width="1.69" height="7.5" fill="#c9b2ad" opacity="0.6"/>
<path d="M1025.5,374.7 L1025.7,368.9 L1026.81,366.9 L1027.19,374.7Z" fill="#9edae5"/>
<rect x="1027.14" y="353.6" width="1.69" height="21.1" fill="#c5b0d5"/>
<rect x="1027.14" y="353.6" width="1.69" height="7.5" fill="#ffbb78" opacity="0.6"/>
<path d="M1027.14,374.7 L1027.34,367.6 L1028.46,365.6 L1028.84,374.7Z" fill="#9edae5"/>
<rect x="1028.79" y="353.6" width="1.69" height="21.1" fill="#ffbb78"/>
<rect x="1028.79" y="353.6" width="1.69" height="7.5" fill="#98df8a" opacity="0.6"/>
<path d="M1028.79,374.7 L1028.99,366.3 L1030.1,364.3 L1030.48,374.7Z" fill="#dbdb8d"/>
<rect x="1030.43" y="353.6" width="1.69" height="21.1" fill="#98df8a"/>
<rect x="1030.43" y="353.6" width="1.69" height="7.5" fill="#ff9896" opacity="0.6"/>
<path d="M1030.43,374.7 L1030.63,370.2 L1031.74,368.2 L1032.12,374.7Z" fill="#aec7e8"/>
<rect x="1032.07" y="353.6" width="1.69" height="21.1" fill="#ff9896"/>
<rect x="1032.07" y="353.6" width="1.69" height="7.5" fill="#f7b6d2" opacity="0.6"/>
<path d="M1032.07,374.7 L1032.27,368.9 L1033.39,366.9 L1033.76,374.7Z" fill="#ffbb78"/>
<rect x="1033.71" y="353.6" width="1.69" height="21.1" fill="#ffbb78"/>
<rect x="1033.71" y="353.6" width="1.69" height="7.5" fill="#c5b0d5" opacity="0.6"/>
<path d="M1033.71,374.7 L1033.91,367.6 L1035.03,365.6 L1035.41,374.7Z" fill="#ff9896"/>
<rect x="1035.36" y="353.6" width="1.69" height="21.1" fill="#c5b0d5"/>
<rect x="1035.36" y="353.6" width="1.69" height="7.5" fill="#e6dff0" opacity="0.6"/>
<path d="M1035.36,374.7 L1035.56,366.3 L1036.67,364.3 L1037.05,374.7Z" fill="#c5b0d5"/>
<rect x="1013.5" y="353.1" width="24" height="21.6" fill="url(#fadeTop)"/>
<path d="M1013.7,366.7 L1013.7,352.6 L1016.2,352.6Z" fill="#fff" opacity="0.85"/>
<path d="M1037.3,368.7 L1037.3,352.6 L1034.4,352.6Z" fill="#fff" opacity="0.85"/>
</g>
<g opacity="0.78">
<rect x="1166.6" y="353.6" width="1.69" height="21.1" fill="#c9b2ad"/>
<rect x="1166.6" y="353.6" width="1.69" height="7.5" fill="#d9c2bc" opacity="0.6"/>
<path d="M1166.6,374.7 L1166.8,367.6 L1167.91,365.6 L1168.29,374.7Z" fill="#dbdb8d"/>
<rect x="1168.24" y="353.6" width="1.69" height="21.1" fill="#9edae5"/>
<rect x="1168.24" y="353.6" width="1.69" height="7.5" fill="#aec7e8" opacity="0.6"/>
<path d="M1168.24,374.7 L1168.44,366.3 L1169.56,364.3 L1169.94,374.7Z" fill="#dbdb8d"/>
<rect x="1169.89" y="353.6" width="1.69" height="21.1" fill="#aec7e8"/>
<rect x="1169.89" y="353.6" width="1.69" height="7.5" fill="#ffbb78" opacity="0.6"/>
<path d="M1169.89,374.7 L1170.09,370.2 L1171.2,368.2 L1171.58,374.7Z" fill="#9edae5"/>
<rect x="1171.53" y="353.6" width="1.69" height="21.1" fill="#ffbb78"/>
<rect x="1171.53" y="353.6" width="1.69" height="7.5" fill="#98df8a" opacity="0.6"/>
<path d="M1171.53,374.7 L1171.73,368.9 L1172.84,366.9 L1173.22,374.7Z" fill="#aec7e8"/>
<rect x="1173.17" y="353.6" width="1.69" height="21.1" fill="#98df8a"/>
<rect x="1173.17" y="353.6" width="1.69" height="7.5" fill="#ff9896" opacity="0.6"/>
<path d="M1173.17,374.7 L1173.37,367.6 L1174.49,365.6 L1174.86,374.7Z" fill="#dbdb8d"/>
<rect x="1174.81" y="353.6" width="1.69" height="21.1" fill="#ff9896"/>
<rect x="1174.81" y="353.6" width="1.69" height="7.5" fill="#d9c2bc" opacity="0.6"/>
<path d="M1174.81,374.7 L1175.01,366.3 L1176.13,364.3 L1176.51,374.7Z" fill="#ffbb78"/>
<rect x="1176.46" y="353.6" width="1.69" height="21.1" fill="#c5b0d5"/>
<rect x="1176.46" y="353.6" width="1.69" height="7.5" fill="#c9b2ad" opacity="0.6"/>
<path d="M1176.46,374.7 L1176.66,370.2 L1177.77,368.2 L1178.15,374.7Z" fill="#dbdb8d"/>
<rect x="1178.1" y="353.6" width="1.69" height="21.1" fill="#f7b6d2"/>
<rect x="1178.1" y="353.6" width="1.69" height="7.5" fill="#c9b2ad" opacity="0.6"/>
<path d="M1178.1,374.7 L1178.3,368.9 L1179.41,366.9 L1179.79,374.7Z" fill="#9edae5"/>
<rect x="1179.74" y="353.6" width="1.69" height="21.1" fill="#c5b0d5"/>
<rect x="1179.74" y="353.6" width="1.69" height="7.5" fill="#ffbb78" opacity="0.6"/>
<path d="M1179.74,374.7 L1179.94,367.6 L1181.06,365.6 L1181.44,374.7Z" fill="#9edae5"/>
<rect x="1181.39" y="353.6" width="1.69" height="21.1" fill="#ffbb78"/>
<rect x="1181.39" y="353.6" width="1.69" height="7.5" fill="#98df8a" opacity="0.6"/>
<path d="M1181.39,374.7 L1181.59,366.3 L1182.7,364.3 L1183.08,374.7Z" fill="#dbdb8d"/>
<rect x="1183.03" y="353.6" width="1.69" height="21.1" fill="#98df8a"/>
<rect x="1183.03" y="353.6" width="1.69" height="7.5" fill="#ff9896" opacity="0.6"/>
<path d="M1183.03,374.7 L1183.23,370.2 L1184.34,368.2 L1184.72,374.7Z" fill="#aec7e8"/>
<rect x="1184.67" y="353.6" width="1.69" height="21.1" fill="#ff9896"/>
<rect x="1184.67" y="353.6" width="1.69" height="7.5" fill="#f7b6d2" opacity="0.6"/>
<path d="M1184.67,374.7 L1184.87,368.9 L1185.99,366.9 L1186.36,374.7Z" fill="#ffbb78"/>
<rect x="1186.31" y="353.6" width="1.69" height="21.1" fill="#ffbb78"/>
<rect x="1186.31" y="353.6" width="1.69" height="7.5" fill="#c5b0d5" opacity="0.6"/>
<path d="M1186.31,374.7 L1186.51,367.6 L1187.63,365.6 L1188.01,374.7Z" fill="#ff9896"/>
<rect x="1187.96" y="353.6" width="1.69" height="21.1" fill="#c5b0d5"/>
<rect x="1187.96" y="353.6" width="1.69" height="7.5" fill="#e6dff0" opacity="0.6"/>
<path d="M1187.96,374.7 L1188.16,366.3 L1189.27,364.3 L1189.65,374.7Z" fill="#c5b0d5"/>
<rect x="1166.1" y="353.1" width="24" height="21.6" fill="url(#fadeTop)"/>
<path d="M1166.3,366.7 L1166.3,352.6 L1168.8,352.6Z" fill="#fff" opacity="0.85"/>
<path d="M1189.9,368.7 L1189.9,352.6 L1187,352.6Z" fill="#fff" opacity="0.85"/>
</g>
<g opacity="0.78">
<rect x="1299.7" y="353.6" width="1.69" height="21.1" fill="#c9b2ad"/>
<rect x="1299.7" y="353.6" width="1.69" height="7.5" fill="#d9c2bc" opacity="0.6"/>
<path d="M1299.7,374.7 L1299.9,367.6 L1301.01,365.6 L1301.39,374.7Z" fill="#dbdb8d"/>
<rect x="1301.34" y="353.6" width="1.69" height="21.1" fill="#9edae5"/>
<rect x="1301.34" y="353.6" width="1.69" height="7.5" fill="#aec7e8" opacity="0.6"/>
<path d="M1301.34,374.7 L1301.54,366.3 L1302.66,364.3 L1303.04,374.7Z" fill="#dbdb8d"/>
<rect x="1302.99" y="353.6" width="1.69" height="21.1" fill="#aec7e8"/>
<rect x="1302.99" y="353.6" width="1.69" height="7.5" fill="#ffbb78" opacity="0.6"/>
<path d="M1302.99,374.7 L1303.19,370.2 L1304.3,368.2 L1304.68,374.7Z" fill="#9edae5"/>
<rect x="1304.63" y="353.6" width="1.69" height="21.1" fill="#ffbb78"/>
<rect x="1304.63" y="353.6" width="1.69" height="7.5" fill="#98df8a" opacity="0.6"/>
<path d="M1304.63,374.7 L1304.83,368.9 L1305.94,366.9 L1306.32,374.7Z" fill="#aec7e8"/>
<rect x="1306.27" y="353.6" width="1.69" height="21.1" fill="#98df8a"/>
<rect x="1306.27" y="353.6" width="1.69" height="7.5" fill="#ff9896" opacity="0.6"/>
<path d="M1306.27,374.7 L1306.47,367.6 L1307.59,365.6 L1307.96,374.7Z" fill="#dbdb8d"/>
<rect x="1307.91" y="353.6" width="1.69" height="21.1" fill="#ff9896"/>
<rect x="1307.91" y="353.6" width="1.69" height="7.5" fill="#d9c2bc" opacity="0.6"/>
<path d="M1307.91,374.7 L1308.11,366.3 L1309.23,364.3 L1309.61,374.7Z" fill="#ffbb78"/>
<rect x="1309.56" y="353.6" width="1.69" height="21.1" fill="#c5b0d5"/>
<rect x="1309.56" y="353.6" width="1.69" height="7.5" fill="#c9b2ad" opacity="0.6"/>
<path d="M1309.56,374.7 L1309.76,370.2 L1310.87,368.2 L1311.25,374.7Z" fill="#dbdb8d"/>
<rect x="1311.2" y="353.6" width="1.69" height="21.1" fill="#f7b6d2"/>
<rect x="1311.2" y="353.6" width="1.69" height="7.5" fill="#c9b2ad" opacity="0.6"/>
<path d="M1311.2,374.7 L1311.4,368.9 L1312.51,366.9 L1312.89,374.7Z" fill="#9edae5"/>
<rect x="1312.84" y="353.6" width="1.69" height="21.1" fill="#c5b0d5"/>
<rect x="1312.84" y="353.6" width="1.69" height="7.5" fill="#ffbb78" opacity="0.6"/>
<path d="M1312.84,374.7 L1313.04,367.6 L1314.16,365.6 L1314.54,374.7Z" fill="#9edae5"/>
<rect x="1314.49" y="353.6" width="1.69" height="21.1" fill="#ffbb78"/>
<rect x="1314.49" y="353.6" width="1.69" height="7.5" fill="#98df8a" opacity="0.6"/>
<path d="M1314.49,374.7 L1314.69,366.3 L1315.8,364.3 L1316.18,374.7Z" fill="#dbdb8d"/>
<rect x="1316.13" y="353.6" width="1.69" height="21.1" fill="#98df8a"/>
<rect x="1316.13" y="353.6" width="1.69" height="7.5" fill="#ff9896" opacity="0.6"/>
<path d="M1316.13,374.7 L1316.33,370.2 L1317.44,368.2 L1317.82,374.7Z" fill="#aec7e8"/>
<rect x="1317.77" y="353.6" width="1.69" height="21.1" fill="#ff9896"/>
<rect x="1317.77" y="353.6" width="1.69" height="7.5" fill="#f7b6d2" opacity="0.6"/>
<path d="M1317.77,374.7 L1317.97,368.9 L1319.09,366.9 L1319.46,374.7Z" fill="#ffbb78"/>
<rect x="1319.41" y="353.6" width="1.69" height="21.1" fill="#ffbb78"/>
<rect x="1319.41" y="353.6" width="1.69" height="7.5" fill="#c5b0d5" opacity="0.6"/>
<path d="M1319.41,374.7 L1319.61,367.6 L1320.73,365.6 L1321.11,374.7Z" fill="#ff9896"/>
<rect x="1321.06" y="353.6" width="1.69" height="21.1" fill="#c5b0d5"/>
<rect x="1321.06" y="353.6" width="1.69" height="7.5" fill="#e6dff0" opacity="0.6"/>
<path d="M1321.06,374.7 L1321.26,366.3 L1322.37,364.3 L1322.75,374.7Z" fill="#c5b0d5"/>
<rect x="1299.2" y="353.1" width="24" height="21.6" fill="url(#fadeTop)"/>
<path d="M1299.4,366.7 L1299.4,352.6 L1301.9,352.6Z" fill="#fff" opacity="0.85"/>
<path d="M1323,368.7 L1323,352.6 L1320.1,352.6Z" fill="#fff" opacity="0.85"/>
</g>
<g opacity="0.78">
<rect x="1451.9" y="353.6" width="1.69" height="21.1" fill="#c9b2ad"/>
<rect x="1451.9" y="353.6" width="1.69" height="7.5" fill="#d9c2bc" opacity="0.6"/>
<path d="M1451.9,374.7 L1452.1,367.6 L1453.21,365.6 L1453.59,374.7Z" fill="#dbdb8d"/>
<rect x="1453.54" y="353.6" width="1.69" height="21.1" fill="#9edae5"/>
<rect x="1453.54" y="353.6" width="1.69" height="7.5" fill="#aec7e8" opacity="0.6"/>
<path d="M1453.54,374.7 L1453.74,366.3 L1454.86,364.3 L1455.24,374.7Z" fill="#dbdb8d"/>
<rect x="1455.19" y="353.6" width="1.69" height="21.1" fill="#aec7e8"/>
<rect x="1455.19" y="353.6" width="1.69" height="7.5" fill="#ffbb78" opacity="0.6"/>
<path d="M1455.19,374.7 L1455.39,370.2 L1456.5,368.2 L1456.88,374.7Z" fill="#9edae5"/>
<rect x="1456.83" y="353.6" width="1.69" height="21.1" fill="#ffbb78"/>
<rect x="1456.83" y="353.6" width="1.69" height="7.5" fill="#98df8a" opacity="0.6"/>
<path d="M1456.83,374.7 L1457.03,368.9 L1458.14,366.9 L1458.52,374.7Z" fill="#aec7e8"/>
<rect x="1458.47" y="353.6" width="1.69" height="21.1" fill="#98df8a"/>
<rect x="1458.47" y="353.6" width="1.69" height="7.5" fill="#ff9896" opacity="0.6"/>
<path d="M1458.47,374.7 L1458.67,367.6 L1459.79,365.6 L1460.16,374.7Z" fill="#dbdb8d"/>
<rect x="1460.11" y="353.6" width="1.69" height="21.1" fill="#ff9896"/>
<rect x="1460.11" y="353.6" width="1.69" height="7.5" fill="#d9c2bc" opacity="0.6"/>
<path d="M1460.11,374.7 L1460.31,366.3 L1461.43,364.3 L1461.81,374.7Z" fill="#ffbb78"/>
<rect x="1461.76" y="353.6" width="1.69" height="21.1" fill="#c5b0d5"/>
<rect x="1461.76" y="353.6" width="1.69" height="7.5" fill="#c9b2ad" opacity="0.6"/>
<path d="M1461.76,374.7 L1461.96,370.2 L1463.07,368.2 L1463.45,374.7Z" fill="#dbdb8d"/>
<rect x="1463.4" y="353.6" width="1.69" height="21.1" fill="#f7b6d2"/>
<rect x="1463.4" y="353.6" width="1.69" height="7.5" fill="#c9b2ad" opacity="0.6"/>
<path d="M1463.4,374.7 L1463.6,368.9 L1464.71,366.9 L1465.09,374.7Z" fill="#9edae5"/>
<rect x="1465.04" y="353.6" width="1.69" height="21.1" fill="#c5b0d5"/>
<rect x="1465.04" y="353.6" width="1.69" height="7.5" fill="#ffbb78" opacity="0.6"/>
<path d="M1465.04,374.7 L1465.24,367.6 L1466.36,365.6 L1466.74,374.7Z" fill="#9edae5"/>
<rect x="1466.69" y="353.6" width="1.69" height="21.1" fill="#ffbb78"/>
<rect x="1466.69" y="353.6" width="1.69" height="7.5" fill="#98df8a" opacity="0.6"/>
<path d="M1466.69,374.7 L1466.89,366.3 L1468,364.3 L1468.38,374.7Z" fill="#dbdb8d"/>
<rect x="1468.33" y="353.6" width="1.69" height="21.1" fill="#98df8a"/>
<rect x="1468.33" y="353.6" width="1.69" height="7.5" fill="#ff9896" opacity="0.6"/>
<path d="M1468.33,374.7 L1468.53,370.2 L1469.64,368.2 L1470.02,374.7Z" fill="#aec7e8"/>
<rect x="1469.97" y="353.6" width="1.69" height="21.1" fill="#ff9896"/>
<rect x="1469.97" y="353.6" width="1.69" height="7.5" fill="#f7b6d2" opacity="0.6"/>
<path d="M1469.97,374.7 L1470.17,368.9 L1471.29,366.9 L1471.66,374.7Z" fill="#ffbb78"/>
<rect x="1471.61" y="353.6" width="1.69" height="21.1" fill="#ffbb78"/>
<rect x="1471.61" y="353.6" width="1.69" height="7.5" fill="#c5b0d5" opacity="0.6"/>
<path d="M1471.61,374.7 L1471.81,367.6 L1472.93,365.6 L1473.31,374.7Z" fill="#ff9896"/>
<rect x="1473.26" y="353.6" width="1.69" height="21.1" fill="#c5b0d5"/>
<rect x="1473.26" y="353.6" width="1.69" height="7.5" fill="#e6dff0" opacity="0.6"/>
<path d="M1473.26,374.7 L1473.46,366.3 L1474.57,364.3 L1474.95,374.7Z" fill="#c5b0d5"/>
<rect x="1451.4" y="353.1" width="24" height="21.6" fill="url(#fadeTop)"/>
<path d="M1451.6,366.7 L1451.6,352.6 L1454.1,352.6Z" fill="#fff" opacity="0.85"/>
<path d="M1475.2,368.7 L1475.2,352.6 L1472.3,352.6Z" fill="#fff" opacity="0.85"/>
</g>
<g opacity="0.78">
<rect x="1581.5" y="353.6" width="1.69" height="21.1" fill="#c9b2ad"/>
<rect x="1581.5" y="353.6" width="1.69" height="7.5" fill="#d9c2bc" opacity="0.6"/>
<path d="M1581.5,374.7 L1581.7,367.6 L1582.81,365.6 L1583.19,374.7Z" fill="#dbdb8d"/>
<rect x="1583.14" y="353.6" width="1.69" height="21.1" fill="#9edae5"/>
<rect x="1583.14" y="353.6" width="1.69" height="7.5" fill="#aec7e8" opacity="0.6"/>
<path d="M1583.14,374.7 L1583.34,366.3 L1584.46,364.3 L1584.84,374.7Z" fill="#dbdb8d"/>
<rect x="1584.79" y="353.6" width="1.69" height="21.1" fill="#aec7e8"/>
<rect x="1584.79" y="353.6" width="1.69" height="7.5" fill="#ffbb78" opacity="0.6"/>
<path d="M1584.79,374.7 L1584.99,370.2 L1586.1,368.2 L1586.48,374.7Z" fill="#9edae5"/>
<rect x="1586.43" y="353.6" width="1.69" height="21.1" fill="#ffbb78"/>
<rect x="1586.43" y="353.6" width="1.69" height="7.5" fill="#98df8a" opacity="0.6"/>
<path d="M1586.43,374.7 L1586.63,368.9 L1587.74,366.9 L1588.12,374.7Z" fill="#aec7e8"/>
<rect x="1588.07" y="353.6" width="1.69" height="21.1" fill="#98df8a"/>
<rect x="1588.07" y="353.6" width="1.69" height="7.5" fill="#ff9896" opacity="0.6"/>
<path d="M1588.07,374.7 L1588.27,367.6 L1589.39,365.6 L1589.76,374.7Z" fill="#dbdb8d"/>
<rect x="1589.71" y="353.6" width="1.69" height="21.1" fill="#ff9896"/>
<rect x="1589.71" y="353.6" width="1.69" height="7.5" fill="#d9c2bc" opacity="0.6"/>
<path d="M1589.71,374.7 L1589.91,366.3 L1591.03,364.3 L1591.41,374.7Z" fill="#ffbb78"/>
<rect x="1591.36" y="353.6" width="1.69" height="21.1" fill="#c5b0d5"/>
<rect x="1591.36" y="353.6" width="1.69" height="7.5" fill="#c9b2ad" opacity="0.6"/>
<path d="M1591.36,374.7 L1591.56,370.2 L1592.67,368.2 L1593.05,374.7Z" fill="#dbdb8d"/>
<rect x="1593" y="353.6" width="1.69" height="21.1" fill="#f7b6d2"/>
<rect x="1593" y="353.6" width="1.69" height="7.5" fill="#c9b2ad" opacity="0.6"/>
<path d="M1593,374.7 L1593.2,368.9 L1594.31,366.9 L1594.69,374.7Z" fill="#9edae5"/>
<rect x="1594.64" y="353.6" width="1.69" height="21.1" fill="#c5b0d5"/>
<rect x="1594.64" y="353.6" width="1.69" height="7.5" fill="#ffbb78" opacity="0.6"/>
<path d="M1594.64,374.7 L1594.84,367.6 L1595.96,365.6 L1596.34,374.7Z" fill="#9edae5"/>
<rect x="1596.29" y="353.6" width="1.69" height="21.1" fill="#ffbb78"/>
<rect x="1596.29" y="353.6" width="1.69" height="7.5" fill="#98df8a" opacity="0.6"/>
<path d="M1596.29,374.7 L1596.49,366.3 L1597.6,364.3 L1597.98,374.7Z" fill="#dbdb8d"/>
<rect x="1597.93" y="353.6" width="1.69" height="21.1" fill="#98df8a"/>
<rect x="1597.93" y="353.6" width="1.69" height="7.5" fill="#ff9896" opacity="0.6"/>
<path d="M1597.93,374.7 L1598.13,370.2 L1599.24,368.2 L1599.62,374.7Z" fill="#aec7e8"/>
<rect x="1599.57" y="353.6" width="1.69" height="21.1" fill="#ff9896"/>
<rect x="1599.57" y="353.6" width="1.69" height="7.5" fill="#f7b6d2" opacity="0.6"/>
<path d="M1599.57,374.7 L1599.77,368.9 L1600.89,366.9 L1601.26,374.7Z" fill="#ffbb78"/>
<rect x="1601.21" y="353.6" width="1.69" height="21.1" fill="#ffbb78"/>
<rect x="1601.21" y="353.6" width="1.69" height="7.5" fill="#c5b0d5" opacity="0.6"/>
<path d="M1601.21,374.7 L1601.41,367.6 L1602.53,365.6 L1602.91,374.7Z" fill="#ff9896"/>
<rect x="1602.86" y="353.6" width="1.69" height="21.1" fill="#c5b0d5"/>
<rect x="1602.86" y="353.6" width="1.69" height="7.5" fill="#e6dff0" opacity="0.6"/>
<path d="M1602.86,374.7 L1603.06,366.3 L1604.17,364.3 L1604.55,374.7Z" fill="#c5b0d5"/>
<rect x="1581" y="353.1" width="24" height="21.6" fill="url(#fadeTop)"/>
<path d="M1581.2,366.7 L1581.2,352.6 L1583.7,352.6Z" fill="#fff" opacity="0.85"/>
<path d="M1604.8,368.7 L1604.8,352.6 L1601.9,352.6Z" fill="#fff" opacity="0.85"/>
</g>
<path d="M145.7,409.1 V426.9 H162.3 V391.7 H167.3 V426.9 H188.1 V391.7 H234 V426.9 H314.4 V391.7 H319.6 V426.9 H381.2 V391.7 H430.6 V426.9 H447.1 V391.7 H452.1 V426.9 H472.8 V391.7 H518.4 V426.9 H598.6 V391.7 H603.8 V426.9 H666.4 V391.7 H711.3 V426.9 H727.8 V391.7 H732.8 V426.9 H753.7 V391.7 H797.8 V426.9 H878.2 V391.7 H883.4 V426.9 H945.6 V391.7 H991.2 V426.9 H1007.7 V391.7 H1012.7 V426.9 H1033.9 V391.7 H1080.3 V426.9 H1160.2 V391.7 H1165.4 V426.9 H1227.5 V391.7 H1276.9 V426.9 H1293.4 V391.7 H1298.4 V426.9 H1319.3 V391.7 H1365.4 V426.9 H1445.5 V391.7 H1450.7 V426.9 H1513.4 V391.7 H1558.7 V426.9 H1575.2 V391.7 H1580.2 V426.9 H1600.9 V391.7 H1646.8 V426.9" fill="none" stroke="#e377c2" stroke-width="2" stroke-linejoin="round"/>
<path d="M127.8,479.3 L127.8,453.9 L132.2,454.1 L133.9,459.1 L136.5,459.1 L137.4,456.3 L139.1,456.3 L140.9,450.3 L142.3,448.7 L143.5,449.5 L145.2,479 L162.6,479.3 L163.5,477.6 L166.7,477.6 L167.5,479.3 L188.3,479.3 L189,465 L195.6,465 L197.3,459.8 L198.6,457.7 L201.3,457.7 L203.4,452.9 L205.5,452.9 L206.4,454.6 L207.4,452.5 L211.3,452.5 L213,455.5 L215.3,455.8 L216.5,457.2 L218.2,455.8 L220.8,455.8 L222.6,459 L224.3,459.8 L227.8,459.8 L229.2,450.3 L232.1,450.3 L233.9,479.3 L314.6,479.3 L315.5,477.6 L319.2,477.6 L319.8,479.3 L381.5,479.3 L382.91,477.9 L384.32,466.8 L391.26,466.8 L391.76,462.1 L392.67,461.7 L393.67,457 L395.49,454.3 L397.8,453.8 L398.81,455.6 L402.53,456.4 L404.34,454.3 L405.35,449.6 L408.06,451.5 L409.97,454.3 L411.79,453.8 L412.29,456.1 L415.61,458.9 L417.42,459.2 L420.24,457 L422.55,457 L424.87,458 L426.98,457.5 L428.19,463.1 L430.5,479.3 L447.4,479.3 L448.3,477.6 L451.5,477.6 L452.3,479.3 L473,479.3 L473.91,464.5 L480.45,464.5 L481.36,460.7 L482.76,458.4 L485.18,457 L485.58,455.6 L486.09,458.9 L489.81,458 L492.63,455.2 L493.33,451.5 L494.04,454.7 L498.17,453.8 L503.8,456.4 L506.12,456.1 L507.13,453.8 L513.17,453.3 L514.98,451 L516.39,451.5 L516.89,458.4 L518.3,479.3 L598.8,479.3 L599.7,477.6 L603.4,477.6 L604,479.3 L666.7,479.3 L667,466.6 L672.34,466.6 L672.74,462.3 L674.75,458.8 L678.78,457.3 L683.82,454.8 L687.84,453.1 L690.86,455.3 L694.89,456.5 L698.92,457.1 L702.94,457.8 L704.96,456.5 L706.37,453.7 L709.19,453.7 L711.2,479.3 L728.1,479.3 L729,477.6 L732.2,477.6 L733,479.3 L753.9,479.3 L754.2,463.3 L760.33,463.3 L760.93,459.3 L762.94,456.5 L765.96,455.3 L770.98,454.3 L776,454.8 L778.51,457.8 L781.02,457.8 L783.03,454.3 L785.04,453.3 L787.86,450.3 L790.07,451.8 L792.58,452.8 L794.28,454.3 L795.59,467.3 L797.7,479.3 L878.4,479.3 L879.3,477.6 L883,477.6 L883.6,479.3 L945.9,479.3 L946.2,463.5 L952.23,463.5 L952.93,460.3 L954.94,456.5 L957.95,457.8 L960.97,457.8 L963.98,455.8 L966.79,454.5 L969,457.3 L971.92,458.8 L974.02,458.3 L976.03,456.5 L979.05,456.8 L982.06,454.3 L984.57,451.8 L986.08,450.9 L988.09,452.3 L989.59,469.3 L991.1,479.3 L1008,479.3 L1008.9,477.6 L1012.1,477.6 L1012.9,479.3 L1034.1,479.3 L1034.41,466.8 L1040.51,466.8 L1042.65,459.9 L1046.82,455.7 L1051.09,454.7 L1055.37,458.2 L1058.52,458.2 L1061.27,450.5 L1063.82,450.5 L1065.34,454.3 L1067.07,454.3 L1069.11,457.8 L1072.97,459.5 L1075.52,452.3 L1077.66,452.3 L1080.2,479.3 L1160.6,479.3 L1160.9,478 L1227.5,478 L1227.8,478 L1229.51,467.6 L1234.76,467.6 L1237.88,465.1 L1241.11,462 L1243.13,452.6 L1245.24,452.2 L1248.47,457.8 L1253.71,458.8 L1256.84,457.2 L1259.96,453.6 L1263.19,455.7 L1266.31,456.8 L1269.44,455.7 L1272.67,453.6 L1274.78,467.3 L1276.8,479.3 L1293.3,479.3 L1293.5,478 L1319.5,478 L1319.5,478 L1319.9,466.1 L1326.8,466.1 L1328.9,456.8 L1331,453 L1334.1,455.1 L1337.2,455.1 L1339.3,457.2 L1342.5,456.8 L1344.5,454.3 L1348.7,452.4 L1352.8,453.3 L1357,455.7 L1358.9,457.8 L1362.6,457.8 L1363.5,469.3 L1365.6,479.3 L1445.7,479.3 L1446.6,477.6 L1450.3,477.6 L1450.9,479.3 L1513.7,479.3 L1514.1,464.1 L1520.66,464.1 L1523.39,455.7 L1527.02,456.8 L1530.15,457.2 L1533.27,453 L1535.8,449.4 L1536.5,454.3 L1539.63,454.7 L1542.76,457.2 L1545.99,457.2 L1550.12,454.3 L1553.35,456.3 L1556.08,457.3 L1557.49,471.3 L1558.6,478 L1575.9,478 L1575.9,479.3 L1576.5,478 L1580,478 L1580.4,479.3 L1601.1,479.3 L1601.41,464.5 L1607.56,464.5 L1609.71,456.8 L1611.86,454.7 L1618.21,455.7 L1620.36,459.3 L1623.64,458.8 L1626.82,455.1 L1632.15,454.3 L1635.33,453 L1639.63,454.3 L1642.81,453 L1643.93,455.7 L1645.37,469.3 L1646.7,479.3" fill="none" stroke="#8c564b" stroke-width="2" stroke-linejoin="round"/>
<rect x="127" y="531" width="1588" height="1" fill="#444" shape-rendering="crispEdges"/>
<rect x="169" y="530" width="1436" height="1" fill="#b4dba6" shape-rendering="crispEdges"/>
<rect x="169" y="531" width="1436" height="1" fill="#93c67e" shape-rendering="crispEdges"/>
<rect x="127" y="25.6" width="1588" height="21.8" fill="#fdaf20" stroke="#9aa4ad" stroke-opacity="0.6" stroke-width="1"/>
<g stroke="#e9a11e" stroke-width="1" opacity="0.4">
<line x1="143.5" y1="26.4" x2="143.5" y2="46.8"/>
<line x1="408.5" y1="26.4" x2="408.5" y2="46.8"/>
<line x1="672.5" y1="26.4" x2="672.5" y2="46.8"/>
<line x1="937.5" y1="26.4" x2="937.5" y2="46.8"/>
<line x1="1201.5" y1="26.4" x2="1201.5" y2="46.8"/>
<line x1="1466.5" y1="26.4" x2="1466.5" y2="46.8"/>
</g>
<g fill="#27a788">
<rect x="162.5" y="35" width="5.2" height="4"/>
<rect x="162.15" y="32.2" width="1.3" height="9.6"/>
<rect x="166.75" y="32.2" width="1.3" height="9.6"/>
</g>
<g fill="#6ffbfb">
<rect x="314.7" y="35" width="5.2" height="4"/>
<rect x="314.35" y="32.2" width="1.3" height="9.6"/>
<rect x="318.95" y="32.2" width="1.3" height="9.6"/>
</g>
<g fill="#4a93a5">
<rect x="381.5" y="35" width="48.8" height="4"/>
<rect x="381.15" y="32.1" width="1.3" height="9.8"/>
<rect x="429.35" y="32.1" width="1.3" height="9.8"/>
</g>
<g fill="#008080">
<rect x="188.5" y="69.4" width="45.5" height="4.2"/>
<rect x="188.1" y="66.6" width="1.4" height="9.8"/>
<rect x="233" y="66.6" width="1.4" height="9.8"/>
</g>
<rect x="161.7" y="101.8" width="1.5" height="9.4" fill="#5f8aaa"/>
<rect x="188" y="101.8" width="1.5" height="9.4" fill="#5f8aaa"/>
<rect x="313.9" y="101.8" width="1.5" height="9.4" fill="#5f8aaa"/>
<rect x="380.9" y="101.8" width="1.5" height="9.4" fill="#5f8aaa"/>
<rect x="168.4" y="139.3" width="20.6" height="5.2" fill="#93390f"/>
<rect x="168.6" y="137.2" width="20.2" height="9.4" fill="#93390f" opacity="0.55"/>
<line x1="168.6" y1="138.25" x2="188.8" y2="138.25" stroke="#93390f" stroke-width="2.5" stroke-dasharray="1.5 0.8" opacity="0.65"/>
<line x1="168.6" y1="145.55" x2="188.8" y2="145.55" stroke="#93390f" stroke-width="2.5" stroke-dasharray="1.5 0.8" opacity="0.65"/>
<rect x="167.2" y="150.9" width="20.7" height="5.1" fill="#93390f"/>
<rect x="167.4" y="148.8" width="20.3" height="9.3" fill="#93390f" opacity="0.55"/>
<line x1="167.4" y1="149.85" x2="187.7" y2="149.85" stroke="#93390f" stroke-width="2.5" stroke-dasharray="1.5 0.8" opacity="0.65"/>
<line x1="167.4" y1="157.05" x2="187.7" y2="157.05" stroke="#93390f" stroke-width="2.5" stroke-dasharray="1.5 0.8" opacity="0.65"/>
<rect x="170.3" y="220.7" width="20.1" height="5.1" fill="#61cf53"/>
<rect x="170.5" y="218.6" width="19.7" height="9.3" fill="#61cf53" opacity="0.8"/>
<line x1="170.5" y1="219.65" x2="190.2" y2="219.65" stroke="#61cf53" stroke-width="2.5" stroke-dasharray="1.5 0.8" opacity="0.65"/>
<line x1="170.5" y1="226.85" x2="190.2" y2="226.85" stroke="#61cf53" stroke-width="2.5" stroke-dasharray="1.5 0.8" opacity="0.65"/>
<rect x="169" y="232.3" width="20" height="5.1" fill="#61cf53"/>
<rect x="169.2" y="230.2" width="19.6" height="9.3" fill="#61cf53" opacity="0.8"/>
<line x1="169.2" y1="231.25" x2="188.8" y2="231.25" stroke="#61cf53" stroke-width="2.5" stroke-dasharray="1.5 0.8" opacity="0.65"/>
<line x1="169.2" y1="238.45" x2="188.8" y2="238.45" stroke="#61cf53" stroke-width="2.5" stroke-dasharray="1.5 0.8" opacity="0.65"/>
<rect x="320.6" y="139.3" width="20.6" height="5.2" fill="#93390f"/>
<rect x="320.8" y="137.2" width="20.2" height="9.4" fill="#93390f" opacity="0.55"/>
<line x1="320.8" y1="138.25" x2="341" y2="138.25" stroke="#93390f" stroke-width="2.5" stroke-dasharray="1.5 0.8" opacity="0.65"/>
<line x1="320.8" y1="145.55" x2="341" y2="145.55" stroke="#93390f" stroke-width="2.5" stroke-dasharray="1.5 0.8" opacity="0.65"/>
<rect x="319.4" y="150.9" width="20.7" height="5.1" fill="#93390f"/>
<rect x="319.6" y="148.8" width="20.3" height="9.3" fill="#93390f" opacity="0.55"/>
<line x1="319.6" y1="149.85" x2="339.9" y2="149.85" stroke="#93390f" stroke-width="2.5" stroke-dasharray="1.5 0.8" opacity="0.65"/>
<line x1="319.6" y1="157.05" x2="339.9" y2="157.05" stroke="#93390f" stroke-width="2.5" stroke-dasharray="1.5 0.8" opacity="0.65"/>
<rect x="322.5" y="220.7" width="20.1" height="5.1" fill="#61cf53"/>
<rect x="322.7" y="218.6" width="19.7" height="9.3" fill="#61cf53" opacity="0.8"/>
<line x1="322.7" y1="219.65" x2="342.4" y2="219.65" stroke="#61cf53" stroke-width="2.5" stroke-dasharray="1.5 0.8" opacity="0.65"/>
<line x1="322.7" y1="226.85" x2="342.4" y2="226.85" stroke="#61cf53" stroke-width="2.5" stroke-dasharray="1.5 0.8" opacity="0.65"/>
<rect x="321.2" y="232.3" width="20" height="5.1" fill="#61cf53"/>
<rect x="321.4" y="230.2" width="19.6" height="9.3" fill="#61cf53" opacity="0.8"/>
<line x1="321.4" y1="231.25" x2="341" y2="231.25" stroke="#61cf53" stroke-width="2.5" stroke-dasharray="1.5 0.8" opacity="0.65"/>
<line x1="321.4" y1="238.45" x2="341" y2="238.45" stroke="#61cf53" stroke-width="2.5" stroke-dasharray="1.5 0.8" opacity="0.65"/>
<g fill="#a5544c">
<rect x="146.1" y="232.6" width="16.5" height="4.2"/>
<rect x="145.7" y="229.8" width="1.4" height="9.8"/>
<rect x="161.6" y="229.8" width="1.4" height="9.8"/>
</g>
<g fill="#b70b06">
<rect x="234.4" y="186.2" width="39.8" height="4.2"/>
<rect x="234" y="183.4" width="1.4" height="9.8"/>
<rect x="273.2" y="183.4" width="1.4" height="9.8"/>
</g>
<g fill="#063524">
<rect x="274.2" y="186.2" width="40.3" height="4.2"/>
<rect x="273.8" y="183.4" width="1.4" height="9.8"/>
<rect x="313.5" y="183.4" width="1.4" height="9.8"/>
</g>
<g fill="#b70b06">
<rect x="341.6" y="186.2" width="39.6" height="4.2"/>
<rect x="341.2" y="183.4" width="1.4" height="9.8"/>
<rect x="380.2" y="183.4" width="1.4" height="9.8"/>
</g>
<g fill="#b70b06">
<rect x="381.2" y="186.2" width="40" height="4.2"/>
<rect x="380.8" y="183.4" width="1.4" height="9.8"/>
<rect x="420.2" y="183.4" width="1.4" height="9.8"/>
</g>
<g fill="#27a788">
<rect x="447.3" y="35" width="5.2" height="4"/>
<rect x="446.95" y="32.2" width="1.3" height="9.6"/>
<rect x="451.55" y="32.2" width="1.3" height="9.6"/>
</g>
<g fill="#6ffbfb">
<rect x="598.9" y="35" width="5.2" height="4"/>
<rect x="598.55" y="32.2" width="1.3" height="9.6"/>
<rect x="603.15" y="32.2" width="1.3" height="9.6"/>
</g>
<g fill="#4a93a5">
<rect x="666.7" y="35" width="44.3" height="4"/>
<rect x="666.35" y="32.1" width="1.3" height="9.8"/>
<rect x="710.05" y="32.1" width="1.3" height="9.8"/>
</g>
<g fill="#008080">
<rect x="473.2" y="69.4" width="45.2" height="4.2"/>
<rect x="472.8" y="66.6" width="1.4" height="9.8"/>
<rect x="517.4" y="66.6" width="1.4" height="9.8"/>
</g>
<rect x="446.5" y="101.8" width="1.5" height="9.4" fill="#5f8aaa"/>
<rect x="472.7" y="101.8" width="1.5" height="9.4" fill="#5f8aaa"/>
<rect x="598.1" y="101.8" width="1.5" height="9.4" fill="#5f8aaa"/>
<rect x="666.1" y="101.8" width="1.5" height="9.4" fill="#5f8aaa"/>
<rect x="453.2" y="139.3" width="20.6" height="5.2" fill="#93390f"/>
<rect x="453.4" y="137.2" width="20.2" height="9.4" fill="#93390f" opacity="0.55"/>
<line x1="453.4" y1="138.25" x2="473.6" y2="138.25" stroke="#93390f" stroke-width="2.5" stroke-dasharray="1.5 0.8" opacity="0.65"/>
<line x1="453.4" y1="145.55" x2="473.6" y2="145.55" stroke="#93390f" stroke-width="2.5" stroke-dasharray="1.5 0.8" opacity="0.65"/>
<rect x="452" y="150.9" width="20.7" height="5.1" fill="#93390f"/>
<rect x="452.2" y="148.8" width="20.3" height="9.3" fill="#93390f" opacity="0.55"/>
<line x1="452.2" y1="149.85" x2="472.5" y2="149.85" stroke="#93390f" stroke-width="2.5" stroke-dasharray="1.5 0.8" opacity="0.65"/>
<line x1="452.2" y1="157.05" x2="472.5" y2="157.05" stroke="#93390f" stroke-width="2.5" stroke-dasharray="1.5 0.8" opacity="0.65"/>
<rect x="455.1" y="220.7" width="20.1" height="5.1" fill="#61cf53"/>
<rect x="455.3" y="218.6" width="19.7" height="9.3" fill="#61cf53" opacity="0.8"/>
<line x1="455.3" y1="219.65" x2="475" y2="219.65" stroke="#61cf53" stroke-width="2.5" stroke-dasharray="1.5 0.8" opacity="0.65"/>
<line x1="455.3" y1="226.85" x2="475" y2="226.85" stroke="#61cf53" stroke-width="2.5" stroke-dasharray="1.5 0.8" opacity="0.65"/>
<rect x="453.8" y="232.3" width="20" height="5.1" fill="#61cf53"/>
<rect x="454" y="230.2" width="19.6" height="9.3" fill="#61cf53" opacity="0.8"/>
<line x1="454" y1="231.25" x2="473.6" y2="231.25" stroke="#61cf53" stroke-width="2.5" stroke-dasharray="1.5 0.8" opacity="0.65"/>
<line x1="454" y1="238.45" x2="473.6" y2="238.45" stroke="#61cf53" stroke-width="2.5" stroke-dasharray="1.5 0.8" opacity="0.65"/>
<rect x="604.8" y="139.3" width="20.6" height="5.2" fill="#93390f"/>
<rect x="605" y="137.2" width="20.2" height="9.4" fill="#93390f" opacity="0.55"/>
<line x1="605" y1="138.25" x2="625.2" y2="138.25" stroke="#93390f" stroke-width="2.5" stroke-dasharray="1.5 0.8" opacity="0.65"/>
<line x1="605" y1="145.55" x2="625.2" y2="145.55" stroke="#93390f" stroke-width="2.5" stroke-dasharray="1.5 0.8" opacity="0.65"/>
<rect x="603.6" y="150.9" width="20.7" height="5.1" fill="#93390f"/>
<rect x="603.8" y="148.8" width="20.3" height="9.3" fill="#93390f" opacity="0.55"/>
<line x1="603.8" y1="149.85" x2="624.1" y2="149.85" stroke="#93390f" stroke-width="2.5" stroke-dasharray="1.5 0.8" opacity="0.65"/>
<line x1="603.8" y1="157.05" x2="624.1" y2="157.05" stroke="#93390f" stroke-width="2.5" stroke-dasharray="1.5 0.8" opacity="0.65"/>
<rect x="606.7" y="220.7" width="20.1" height="5.1" fill="#61cf53"/>
<rect x="606.9" y="218.6" width="19.7" height="9.3" fill="#61cf53" opacity="0.8"/>
<line x1="606.9" y1="219.65" x2="626.6" y2="219.65" stroke="#61cf53" stroke-width="2.5" stroke-dasharray="1.5 0.8" opacity="0.65"/>
<line x1="606.9" y1="226.85" x2="626.6" y2="226.85" stroke="#61cf53" stroke-width="2.5" stroke-dasharray="1.5 0.8" opacity="0.65"/>
<rect x="605.4" y="232.3" width="20" height="5.1" fill="#61cf53"/>
<rect x="605.6" y="230.2" width="19.6" height="9.3" fill="#61cf53" opacity="0.8"/>
<line x1="605.6" y1="231.25" x2="625.2" y2="231.25" stroke="#61cf53" stroke-width="2.5" stroke-dasharray="1.5 0.8" opacity="0.65"/>
<line x1="605.6" y1="238.45" x2="625.2" y2="238.45" stroke="#61cf53" stroke-width="2.5" stroke-dasharray="1.5 0.8" opacity="0.65"/>
<g fill="#a5544c">
<rect x="430.8" y="232.6" width="16.6" height="4.2"/>
<rect x="430.4" y="229.8" width="1.4" height="9.8"/>
<rect x="446.4" y="229.8" width="1.4" height="9.8"/>
</g>
<g fill="#b70b06">
<rect x="518.8" y="186.2" width="39.8" height="4.2"/>
<rect x="518.4" y="183.4" width="1.4" height="9.8"/>
<rect x="557.6" y="183.4" width="1.4" height="9.8"/>
</g>
<g fill="#063524">
<rect x="558.6" y="186.2" width="40.1" height="4.2"/>
<rect x="558.2" y="183.4" width="1.4" height="9.8"/>
<rect x="597.7" y="183.4" width="1.4" height="9.8"/>
</g>
<g fill="#b70b06">
<rect x="625.8" y="186.2" width="40.6" height="4.2"/>
<rect x="625.4" y="183.4" width="1.4" height="9.8"/>
<rect x="665.4" y="183.4" width="1.4" height="9.8"/>
</g>
<g fill="#b70b06">
<rect x="666.4" y="186.2" width="40" height="4.2"/>
<rect x="666" y="183.4" width="1.4" height="9.8"/>
<rect x="705.4" y="183.4" width="1.4" height="9.8"/>
</g>
<g fill="#27a788">
<rect x="728" y="35" width="5.2" height="4"/>
<rect x="727.65" y="32.2" width="1.3" height="9.6"/>
<rect x="732.25" y="32.2" width="1.3" height="9.6"/>
</g>
<g fill="#6ffbfb">
<rect x="878.5" y="35" width="5.2" height="4"/>
<rect x="878.15" y="32.2" width="1.3" height="9.6"/>
<rect x="882.75" y="32.2" width="1.3" height="9.6"/>
</g>
<g fill="#4a93a5">
<rect x="945.9" y="35" width="45" height="4"/>
<rect x="945.55" y="32.1" width="1.3" height="9.8"/>
<rect x="989.95" y="32.1" width="1.3" height="9.8"/>
</g>
<g fill="#008080">
<rect x="754.1" y="69.4" width="43.7" height="4.2"/>
<rect x="753.7" y="66.6" width="1.4" height="9.8"/>
<rect x="796.8" y="66.6" width="1.4" height="9.8"/>
</g>
<rect x="727.2" y="101.8" width="1.5" height="9.4" fill="#5f8aaa"/>
<rect x="753.6" y="101.8" width="1.5" height="9.4" fill="#5f8aaa"/>
<rect x="877.7" y="101.8" width="1.5" height="9.4" fill="#5f8aaa"/>
<rect x="945.3" y="101.8" width="1.5" height="9.4" fill="#5f8aaa"/>
<rect x="733.9" y="139.3" width="20.6" height="5.2" fill="#93390f"/>
<rect x="734.1" y="137.2" width="20.2" height="9.4" fill="#93390f" opacity="0.55"/>
<line x1="734.1" y1="138.25" x2="754.3" y2="138.25" stroke="#93390f" stroke-width="2.5" stroke-dasharray="1.5 0.8" opacity="0.65"/>
<line x1="734.1" y1="145.55" x2="754.3" y2="145.55" stroke="#93390f" stroke-width="2.5" stroke-dasharray="1.5 0.8" opacity="0.65"/>
<rect x="732.7" y="150.9" width="20.7" height="5.1" fill="#93390f"/>
<rect x="732.9" y="148.8" width="20.3" height="9.3" fill="#93390f" opacity="0.55"/>
<line x1="732.9" y1="149.85" x2="753.2" y2="149.85" stroke="#93390f" stroke-width="2.5" stroke-dasharray="1.5 0.8" opacity="0.65"/>
<line x1="732.9" y1="157.05" x2="753.2" y2="157.05" stroke="#93390f" stroke-width="2.5" stroke-dasharray="1.5 0.8" opacity="0.65"/>
<rect x="735.8" y="220.7" width="20.1" height="5.1" fill="#61cf53"/>
<rect x="736" y="218.6" width="19.7" height="9.3" fill="#61cf53" opacity="0.8"/>
<line x1="736" y1="219.65" x2="755.7" y2="219.65" stroke="#61cf53" stroke-width="2.5" stroke-dasharray="1.5 0.8" opacity="0.65"/>
<line x1="736" y1="226.85" x2="755.7" y2="226.85" stroke="#61cf53" stroke-width="2.5" stroke-dasharray="1.5 0.8" opacity="0.65"/>
<rect x="734.5" y="232.3" width="20" height="5.1" fill="#61cf53"/>
<rect x="734.7" y="230.2" width="19.6" height="9.3" fill="#61cf53" opacity="0.8"/>
<line x1="734.7" y1="231.25" x2="754.3" y2="231.25" stroke="#61cf53" stroke-width="2.5" stroke-dasharray="1.5 0.8" opacity="0.65"/>
<line x1="734.7" y1="238.45" x2="754.3" y2="238.45" stroke="#61cf53" stroke-width="2.5" stroke-dasharray="1.5 0.8" opacity="0.65"/>
<rect x="884.4" y="139.3" width="20.6" height="5.2" fill="#93390f"/>
<rect x="884.6" y="137.2" width="20.2" height="9.4" fill="#93390f" opacity="0.55"/>
<line x1="884.6" y1="138.25" x2="904.8" y2="138.25" stroke="#93390f" stroke-width="2.5" stroke-dasharray="1.5 0.8" opacity="0.65"/>
<line x1="884.6" y1="145.55" x2="904.8" y2="145.55" stroke="#93390f" stroke-width="2.5" stroke-dasharray="1.5 0.8" opacity="0.65"/>
<rect x="883.2" y="150.9" width="20.7" height="5.1" fill="#93390f"/>
<rect x="883.4" y="148.8" width="20.3" height="9.3" fill="#93390f" opacity="0.55"/>
<line x1="883.4" y1="149.85" x2="903.7" y2="149.85" stroke="#93390f" stroke-width="2.5" stroke-dasharray="1.5 0.8" opacity="0.65"/>
<line x1="883.4" y1="157.05" x2="903.7" y2="157.05" stroke="#93390f" stroke-width="2.5" stroke-dasharray="1.5 0.8" opacity="0.65"/>
<rect x="886.3" y="220.7" width="20.1" height="5.1" fill="#61cf53"/>
<rect x="886.5" y="218.6" width="19.7" height="9.3" fill="#61cf53" opacity="0.8"/>
<line x1="886.5" y1="219.65" x2="906.2" y2="219.65" stroke="#61cf53" stroke-width="2.5" stroke-dasharray="1.5 0.8" opacity="0.65"/>
<line x1="886.5" y1="226.85" x2="906.2" y2="226.85" stroke="#61cf53" stroke-width="2.5" stroke-dasharray="1.5 0.8" opacity="0.65"/>
<rect x="885" y="232.3" width="20" height="5.1" fill="#61cf53"/>
<rect x="885.2" y="230.2" width="19.6" height="9.3" fill="#61cf53" opacity="0.8"/>
<line x1="885.2" y1="231.25" x2="904.8" y2="231.25" stroke="#61cf53" stroke-width="2.5" stroke-dasharray="1.5 0.8" opacity="0.65"/>
<line x1="885.2" y1="238.45" x2="904.8" y2="238.45" stroke="#61cf53" stroke-width="2.5" stroke-dasharray="1.5 0.8" opacity="0.65"/>
<g fill="#a5544c">
<rect x="711.5" y="232.6" width="16.6" height="4.2"/>
<rect x="711.1" y="229.8" width="1.4" height="9.8"/>
<rect x="727.1" y="229.8" width="1.4" height="9.8"/>
</g>
<g fill="#b70b06">
<rect x="798.2" y="186.2" width="39.8" height="4.2"/>
<rect x="797.8" y="183.4" width="1.4" height="9.8"/>
<rect x="837" y="183.4" width="1.4" height="9.8"/>
</g>
<g fill="#063524">
<rect x="838" y="186.2" width="40.3" height="4.2"/>
<rect x="837.6" y="183.4" width="1.4" height="9.8"/>
<rect x="877.3" y="183.4" width="1.4" height="9.8"/>
</g>
<g fill="#b70b06">
<rect x="905.4" y="186.2" width="40.2" height="4.2"/>
<rect x="905" y="183.4" width="1.4" height="9.8"/>
<rect x="944.6" y="183.4" width="1.4" height="9.8"/>
</g>
<g fill="#b70b06">
<rect x="945.6" y="186.2" width="40" height="4.2"/>
<rect x="945.2" y="183.4" width="1.4" height="9.8"/>
<rect x="984.6" y="183.4" width="1.4" height="9.8"/>
</g>
<g fill="#27a788">
<rect x="1007.9" y="35" width="5.2" height="4"/>
<rect x="1007.55" y="32.2" width="1.3" height="9.6"/>
<rect x="1012.15" y="32.2" width="1.3" height="9.6"/>
</g>
<g fill="#6ffbfb">
<rect x="1160.5" y="35" width="5.2" height="4"/>
<rect x="1160.15" y="32.2" width="1.3" height="9.6"/>
<rect x="1164.75" y="32.2" width="1.3" height="9.6"/>
</g>
<g fill="#4a93a5">
<rect x="1227.8" y="35" width="48.8" height="4"/>
<rect x="1227.45" y="32.1" width="1.3" height="9.8"/>
<rect x="1275.65" y="32.1" width="1.3" height="9.8"/>
</g>
<g fill="#008080">
<rect x="1034.3" y="69.4" width="46" height="4.2"/>
<rect x="1033.9" y="66.6" width="1.4" height="9.8"/>
<rect x="1079.3" y="66.6" width="1.4" height="9.8"/>
</g>
<rect x="1007.1" y="101.8" width="1.5" height="9.4" fill="#5f8aaa"/>
<rect x="1033.8" y="101.8" width="1.5" height="9.4" fill="#5f8aaa"/>
<rect x="1159.7" y="101.8" width="1.5" height="9.4" fill="#5f8aaa"/>
<rect x="1227.2" y="101.8" width="1.5" height="9.4" fill="#5f8aaa"/>
<rect x="1013.8" y="139.3" width="20.6" height="5.2" fill="#93390f"/>
<rect x="1014" y="137.2" width="20.2" height="9.4" fill="#93390f" opacity="0.55"/>
<line x1="1014" y1="138.25" x2="1034.2" y2="138.25" stroke="#93390f" stroke-width="2.5" stroke-dasharray="1.5 0.8" opacity="0.65"/>
<line x1="1014" y1="145.55" x2="1034.2" y2="145.55" stroke="#93390f" stroke-width="2.5" stroke-dasharray="1.5 0.8" opacity="0.65"/>
<rect x="1012.6" y="150.9" width="20.7" height="5.1" fill="#93390f"/>
<rect x="1012.8" y="148.8" width="20.3" height="9.3" fill="#93390f" opacity="0.55"/>
<line x1="1012.8" y1="149.85" x2="1033.1" y2="149.85" stroke="#93390f" stroke-width="2.5" stroke-dasharray="1.5 0.8" opacity="0.65"/>
<line x1="1012.8" y1="157.05" x2="1033.1" y2="157.05" stroke="#93390f" stroke-width="2.5" stroke-dasharray="1.5 0.8" opacity="0.65"/>
<rect x="1015.7" y="220.7" width="20.1" height="5.1" fill="#61cf53"/>
<rect x="1015.9" y="218.6" width="19.7" height="9.3" fill="#61cf53" opacity="0.8"/>
<line x1="1015.9" y1="219.65" x2="1035.6" y2="219.65" stroke="#61cf53" stroke-width="2.5" stroke-dasharray="1.5 0.8" opacity="0.65"/>
<line x1="1015.9" y1="226.85" x2="1035.6" y2="226.85" stroke="#61cf53" stroke-width="2.5" stroke-dasharray="1.5 0.8" opacity="0.65"/>
<rect x="1014.4" y="232.3" width="20" height="5.1" fill="#61cf53"/>
<rect x="1014.6" y="230.2" width="19.6" height="9.3" fill="#61cf53" opacity="0.8"/>
<line x1="1014.6" y1="231.25" x2="1034.2" y2="231.25" stroke="#61cf53" stroke-width="2.5" stroke-dasharray="1.5 0.8" opacity="0.65"/>
<line x1="1014.6" y1="238.45" x2="1034.2" y2="238.45" stroke="#61cf53" stroke-width="2.5" stroke-dasharray="1.5 0.8" opacity="0.65"/>
<rect x="1166.4" y="139.3" width="20.6" height="5.2" fill="#93390f"/>
<rect x="1166.6" y="137.2" width="20.2" height="9.4" fill="#93390f" opacity="0.55"/>
<line x1="1166.6" y1="138.25" x2="1186.8" y2="138.25" stroke="#93390f" stroke-width="2.5" stroke-dasharray="1.5 0.8" opacity="0.65"/>
<line x1="1166.6" y1="145.55" x2="1186.8" y2="145.55" stroke="#93390f" stroke-width="2.5" stroke-dasharray="1.5 0.8" opacity="0.65"/>
<rect x="1165.2" y="150.9" width="20.7" height="5.1" fill="#93390f"/>
<rect x="1165.4" y="148.8" width="20.3" height="9.3" fill="#93390f" opacity="0.55"/>
<line x1="1165.4" y1="149.85" x2="1185.7" y2="149.85" stroke="#93390f" stroke-width="2.5" stroke-dasharray="1.5 0.8" opacity="0.65"/>
<line x1="1165.4" y1="157.05" x2="1185.7" y2="157.05" stroke="#93390f" stroke-width="2.5" stroke-dasharray="1.5 0.8" opacity="0.65"/>
<rect x="1168.3" y="220.7" width="20.1" height="5.1" fill="#61cf53"/>
<rect x="1168.5" y="218.6" width="19.7" height="9.3" fill="#61cf53" opacity="0.8"/>
<line x1="1168.5" y1="219.65" x2="1188.2" y2="219.65" stroke="#61cf53" stroke-width="2.5" stroke-dasharray="1.5 0.8" opacity="0.65"/>
<line x1="1168.5" y1="226.85" x2="1188.2" y2="226.85" stroke="#61cf53" stroke-width="2.5" stroke-dasharray="1.5 0.8" opacity="0.65"/>
<rect x="1167" y="232.3" width="20" height="5.1" fill="#61cf53"/>
<rect x="1167.2" y="230.2" width="19.6" height="9.3" fill="#61cf53" opacity="0.8"/>
<line x1="1167.2" y1="231.25" x2="1186.8" y2="231.25" stroke="#61cf53" stroke-width="2.5" stroke-dasharray="1.5 0.8" opacity="0.65"/>
<line x1="1167.2" y1="238.45" x2="1186.8" y2="238.45" stroke="#61cf53" stroke-width="2.5" stroke-dasharray="1.5 0.8" opacity="0.65"/>
<g fill="#a5544c">
<rect x="991.4" y="232.6" width="16.6" height="4.2"/>
<rect x="991" y="229.8" width="1.4" height="9.8"/>
<rect x="1007" y="229.8" width="1.4" height="9.8"/>
</g>
<g fill="#b70b06">
<rect x="1080.7" y="186.2" width="39.8" height="4.2"/>
<rect x="1080.3" y="183.4" width="1.4" height="9.8"/>
<rect x="1119.5" y="183.4" width="1.4" height="9.8"/>
</g>
<g fill="#063524">
<rect x="1120.5" y="186.2" width="39.8" height="4.2"/>
<rect x="1120.1" y="183.4" width="1.4" height="9.8"/>
<rect x="1159.3" y="183.4" width="1.4" height="9.8"/>
</g>
<g fill="#b70b06">
<rect x="1187.4" y="186.2" width="40.1" height="4.2"/>
<rect x="1187" y="183.4" width="1.4" height="9.8"/>
<rect x="1226.5" y="183.4" width="1.4" height="9.8"/>
</g>
<g fill="#b70b06">
<rect x="1227.5" y="186.2" width="40" height="4.2"/>
<rect x="1227.1" y="183.4" width="1.4" height="9.8"/>
<rect x="1266.5" y="183.4" width="1.4" height="9.8"/>
</g>
<g fill="#27a788">
<rect x="1293.6" y="35" width="5.2" height="4"/>
<rect x="1293.25" y="32.2" width="1.3" height="9.6"/>
<rect x="1297.85" y="32.2" width="1.3" height="9.6"/>
</g>
<g fill="#6ffbfb">
<rect x="1445.8" y="35" width="5.2" height="4"/>
<rect x="1445.45" y="32.2" width="1.3" height="9.6"/>
<rect x="1450.05" y="32.2" width="1.3" height="9.6"/>
</g>
<g fill="#4a93a5">
<rect x="1513.7" y="35" width="44.7" height="4"/>
<rect x="1513.35" y="32.1" width="1.3" height="9.8"/>
<rect x="1557.45" y="32.1" width="1.3" height="9.8"/>
</g>
<g fill="#008080">
<rect x="1319.7" y="69.4" width="45.7" height="4.2"/>
<rect x="1319.3" y="66.6" width="1.4" height="9.8"/>
<rect x="1364.4" y="66.6" width="1.4" height="9.8"/>
</g>
<rect x="1292.8" y="101.8" width="1.5" height="9.4" fill="#5f8aaa"/>
<rect x="1319.2" y="101.8" width="1.5" height="9.4" fill="#5f8aaa"/>
<rect x="1445" y="101.8" width="1.5" height="9.4" fill="#5f8aaa"/>
<rect x="1513.1" y="101.8" width="1.5" height="9.4" fill="#5f8aaa"/>
<rect x="1299.5" y="139.3" width="20.6" height="5.2" fill="#93390f"/>
<rect x="1299.7" y="137.2" width="20.2" height="9.4" fill="#93390f" opacity="0.55"/>
<line x1="1299.7" y1="138.25" x2="1319.9" y2="138.25" stroke="#93390f" stroke-width="2.5" stroke-dasharray="1.5 0.8" opacity="0.65"/>
<line x1="1299.7" y1="145.55" x2="1319.9" y2="145.55" stroke="#93390f" stroke-width="2.5" stroke-dasharray="1.5 0.8" opacity="0.65"/>
<rect x="1298.3" y="150.9" width="20.7" height="5.1" fill="#93390f"/>
<rect x="1298.5" y="148.8" width="20.3" height="9.3" fill="#93390f" opacity="0.55"/>
<line x1="1298.5" y1="149.85" x2="1318.8" y2="149.85" stroke="#93390f" stroke-width="2.5" stroke-dasharray="1.5 0.8" opacity="0.65"/>
<line x1="1298.5" y1="157.05" x2="1318.8" y2="157.05" stroke="#93390f" stroke-width="2.5" stroke-dasharray="1.5 0.8" opacity="0.65"/>
<rect x="1301.4" y="220.7" width="20.1" height="5.1" fill="#61cf53"/>
<rect x="1301.6" y="218.6" width="19.7" height="9.3" fill="#61cf53" opacity="0.8"/>
<line x1="1301.6" y1="219.65" x2="1321.3" y2="219.65" stroke="#61cf53" stroke-width="2.5" stroke-dasharray="1.5 0.8" opacity="0.65"/>
<line x1="1301.6" y1="226.85" x2="1321.3" y2="226.85" stroke="#61cf53" stroke-width="2.5" stroke-dasharray="1.5 0.8" opacity="0.65"/>
<rect x="1300.1" y="232.3" width="20" height="5.1" fill="#61cf53"/>
<rect x="1300.3" y="230.2" width="19.6" height="9.3" fill="#61cf53" opacity="0.8"/>
<line x1="1300.3" y1="231.25" x2="1319.9" y2="231.25" stroke="#61cf53" stroke-width="2.5" stroke-dasharray="1.5 0.8" opacity="0.65"/>
<line x1="1300.3" y1="238.45" x2="1319.9" y2="238.45" stroke="#61cf53" stroke-width="2.5" stroke-dasharray="1.5 0.8" opacity="0.65"/>
<rect x="1451.7" y="139.3" width="20.6" height="5.2" fill="#93390f"/>
<rect x="1451.9" y="137.2" width="20.2" height="9.4" fill="#93390f" opacity="0.55"/>
<line x1="1451.9" y1="138.25" x2="1472.1" y2="138.25" stroke="#93390f" stroke-width="2.5" stroke-dasharray="1.5 0.8" opacity="0.65"/>
<line x1="1451.9" y1="145.55" x2="1472.1" y2="145.55" stroke="#93390f" stroke-width="2.5" stroke-dasharray="1.5 0.8" opacity="0.65"/>
<rect x="1450.5" y="150.9" width="20.7" height="5.1" fill="#93390f"/>
<rect x="1450.7" y="148.8" width="20.3" height="9.3" fill="#93390f" opacity="0.55"/>
<line x1="1450.7" y1="149.85" x2="1471" y2="149.85" stroke="#93390f" stroke-width="2.5" stroke-dasharray="1.5 0.8" opacity="0.65"/>
<line x1="1450.7" y1="157.05" x2="1471" y2="157.05" stroke="#93390f" stroke-width="2.5" stroke-dasharray="1.5 0.8" opacity="0.65"/>
<rect x="1453.6" y="220.7" width="20.1" height="5.1" fill="#61cf53"/>
<rect x="1453.8" y="218.6" width="19.7" height="9.3" fill="#61cf53" opacity="0.8"/>
<line x1="1453.8" y1="219.65" x2="1473.5" y2="219.65" stroke="#61cf53" stroke-width="2.5" stroke-dasharray="1.5 0.8" opacity="0.65"/>
<line x1="1453.8" y1="226.85" x2="1473.5" y2="226.85" stroke="#61cf53" stroke-width="2.5" stroke-dasharray="1.5 0.8" opacity="0.65"/>
<rect x="1452.3" y="232.3" width="20" height="5.1" fill="#61cf53"/>
<rect x="1452.5" y="230.2" width="19.6" height="9.3" fill="#61cf53" opacity="0.8"/>
<line x1="1452.5" y1="231.25" x2="1472.1" y2="231.25" stroke="#61cf53" stroke-width="2.5" stroke-dasharray="1.5 0.8" opacity="0.65"/>
<line x1="1452.5" y1="238.45" x2="1472.1" y2="238.45" stroke="#61cf53" stroke-width="2.5" stroke-dasharray="1.5 0.8" opacity="0.65"/>
<g fill="#a5544c">
<rect x="1277.1" y="232.6" width="16.6" height="4.2"/>
<rect x="1276.7" y="229.8" width="1.4" height="9.8"/>
<rect x="1292.7" y="229.8" width="1.4" height="9.8"/>
</g>
<g fill="#b70b06">
<rect x="1365.8" y="186.2" width="39.8" height="4.2"/>
<rect x="1365.4" y="183.4" width="1.4" height="9.8"/>
<rect x="1404.6" y="183.4" width="1.4" height="9.8"/>
</g>
<g fill="#063524">
<rect x="1405.6" y="186.2" width="40" height="4.2"/>
<rect x="1405.2" y="183.4" width="1.4" height="9.8"/>
<rect x="1444.6" y="183.4" width="1.4" height="9.8"/>
</g>
<g fill="#b70b06">
<rect x="1472.7" y="186.2" width="40.7" height="4.2"/>
<rect x="1472.3" y="183.4" width="1.4" height="9.8"/>
<rect x="1512.4" y="183.4" width="1.4" height="9.8"/>
</g>
<g fill="#b70b06">
<rect x="1513.4" y="186.2" width="40" height="4.2"/>
<rect x="1513" y="183.4" width="1.4" height="9.8"/>
<rect x="1552.4" y="183.4" width="1.4" height="9.8"/>
</g>
<g fill="#27a788">
<rect x="1575.4" y="35" width="5.2" height="4"/>
<rect x="1575.05" y="32.2" width="1.3" height="9.6"/>
<rect x="1579.65" y="32.2" width="1.3" height="9.6"/>
</g>
<g fill="#008080">
<rect x="1601.3" y="69.4" width="45.5" height="4.2"/>
<rect x="1600.9" y="66.6" width="1.4" height="9.8"/>
<rect x="1645.8" y="66.6" width="1.4" height="9.8"/>
</g>
<rect x="1574.6" y="101.8" width="1.5" height="9.4" fill="#5f8aaa"/>
<rect x="1600.8" y="101.8" width="1.5" height="9.4" fill="#5f8aaa"/>
<rect x="1581.3" y="139.3" width="20.6" height="5.2" fill="#93390f"/>
<rect x="1581.5" y="137.2" width="20.2" height="9.4" fill="#93390f" opacity="0.55"/>
<line x1="1581.5" y1="138.25" x2="1601.7" y2="138.25" stroke="#93390f" stroke-width="2.5" stroke-dasharray="1.5 0.8" opacity="0.65"/>
<line x1="1581.5" y1="145.55" x2="1601.7" y2="145.55" stroke="#93390f" stroke-width="2.5" stroke-dasharray="1.5 0.8" opacity="0.65"/>
<rect x="1580.1" y="150.9" width="20.7" height="5.1" fill="#93390f"/>
<rect x="1580.3" y="148.8" width="20.3" height="9.3" fill="#93390f" opacity="0.55"/>
<line x1="1580.3" y1="149.85" x2="1600.6" y2="149.85" stroke="#93390f" stroke-width="2.5" stroke-dasharray="1.5 0.8" opacity="0.65"/>
<line x1="1580.3" y1="157.05" x2="1600.6" y2="157.05" stroke="#93390f" stroke-width="2.5" stroke-dasharray="1.5 0.8" opacity="0.65"/>
<rect x="1583.2" y="220.7" width="20.1" height="5.1" fill="#61cf53"/>
<rect x="1583.4" y="218.6" width="19.7" height="9.3" fill="#61cf53" opacity="0.8"/>
<line x1="1583.4" y1="219.65" x2="1603.1" y2="219.65" stroke="#61cf53" stroke-width="2.5" stroke-dasharray="1.5 0.8" opacity="0.65"/>
<line x1="1583.4" y1="226.85" x2="1603.1" y2="226.85" stroke="#61cf53" stroke-width="2.5" stroke-dasharray="1.5 0.8" opacity="0.65"/>
<rect x="1581.9" y="232.3" width="20" height="5.1" fill="#61cf53"/>
<rect x="1582.1" y="230.2" width="19.6" height="9.3" fill="#61cf53" opacity="0.8"/>
<line x1="1582.1" y1="231.25" x2="1601.7" y2="231.25" stroke="#61cf53" stroke-width="2.5" stroke-dasharray="1.5 0.8" opacity="0.65"/>
<line x1="1582.1" y1="238.45" x2="1601.7" y2="238.45" stroke="#61cf53" stroke-width="2.5" stroke-dasharray="1.5 0.8" opacity="0.65"/>
<g fill="#a5544c">
<rect x="1558.9" y="232.6" width="16.6" height="4.2"/>
<rect x="1558.5" y="229.8" width="1.4" height="9.8"/>
<rect x="1574.5" y="229.8" width="1.4" height="9.8"/>
</g>
<g fill="#b70b06">
<rect x="1647.2" y="186.2" width="39.8" height="4.2"/>
<rect x="1646.8" y="183.4" width="1.4" height="9.8"/>
<rect x="1686" y="183.4" width="1.4" height="9.8"/>
</g>
<g fill="#063524">
<rect x="1687" y="186.2" width="40" height="4.2"/>
<rect x="1686.6" y="183.4" width="1.4" height="9.8"/>
<rect x="1726" y="183.4" width="1.4" height="9.8"/>
</g>
</g>
<path d="M127.5,21.7 V29.8 M127.5,25.8 H131" stroke="#111" stroke-width="1.1" fill="none"/>
<g fill="none" stroke="#5a2de6" stroke-width="2">
<ellipse cx="614.5" cy="187.6" rx="99" ry="63.8"/>
<ellipse cx="450" cy="468.5" rx="74.5" ry="52"/>
<ellipse cx="732" cy="468.6" rx="74.4" ry="52"/>
</g>
<ellipse cx="928.2" cy="288" rx="74.3" ry="20" fill="none" stroke="#fa2a06" stroke-width="1.8"/>
<line x1="474.8" y1="419" x2="560.26" y2="252.35" stroke="#5a2de6" stroke-width="2"/>
<path d="M564.6,243.9 L564.36,254.45 L556.17,250.25Z" fill="#5a2de6"/>
<line x1="647.9" y1="250.9" x2="713.81" y2="407.25" stroke="#5a2de6" stroke-width="2"/>
<path d="M717.5,416 L709.57,409.03 L718.05,405.46Z" fill="#5a2de6"/>
<g font-family="'Liberation Sans', sans-serif" font-weight="bold" font-size="18.6">
<text x="618.4" y="118.8" fill="#5a2de6" textLength="133.2" lengthAdjust="spacingAndGlyphs">Busy Compute</text>
<text x="489.6" y="529.0" font-size="19.6" fill="#5a2de6" textLength="94.4" lengthAdjust="spacingAndGlyphs">Busy DMA</text>
<text x="784.0" y="529.0" font-size="19.6" fill="#5a2de6" textLength="94.4" lengthAdjust="spacingAndGlyphs">Busy DMA</text>
<text x="950.3" y="328.9" fill="#fa2a06" textLength="145.4" lengthAdjust="spacingAndGlyphs">Max usage: 50%</text>
</g>
<rect x="1522.9" y="101.9" width="123" height="171.9" fill="#fff" fill-opacity="0.8"/>
<path d="M1082,188.3 L1088,182.3 V101.9 H1522.9 V273.8 H1088 V194.3 Z" fill="#008080" stroke="#008080" stroke-width="0.6"/>
<g font-family="'Liberation Sans', sans-serif" font-size="13" fill="#fff">
<text x="1090.5" y="116.6">(9,654,228, VectorE)</text>
<text x="1090.5" y="133.5">start: 9654228 ns | end: 9654237 ns</text>
<text x="1090.5" y="151">duration: 9 ns</text>
<text x="1090.5" y="167.3">evt_wait_time: 40800 ns</text>
<text x="1090.5" y="184.2">opcode: EVENT_SEMAPHORE</text>
<text x="1090.5" y="201.1">operands: S[49] (qSyncSpillReload0)&gt;=96 setter=0</text>
<text x="1090.5" y="218">nki_source_location: /home/ubuntu/nki/mamba-8k-seqlen/mamba-v2.py:65</text>
<text x="1090.5" y="234.9">pc: 480</text>
<text x="1090.5" y="251.8">penguin_id: sg0000:23</text>
<text x="1090.5" y="268.7">bir_id: sg0000:406466</text>
</g>
<text x="1527" y="116.8" font-family="'Liberation Sans', sans-serif" font-size="13" fill="#008080">EVENT_SEMAPH...</text>
<g fill="#c8c8c8"><rect x="1526" y="6.2" width="16" height="10.3" rx="1.7"/><path d="M1529.6,6.6 L1531,3.8 H1537 L1538.4,6.6Z"/></g>
<circle cx="1534" cy="10.9" r="3.9" fill="#fff"/><circle cx="1534" cy="10.9" r="2.35" fill="#c8c8c8"/><circle cx="1539.9" cy="8.1" r="0.7" fill="#fff"/>
<circle cx="1564.6" cy="8.2" r="5.4" fill="none" stroke="#7c7c7c" stroke-width="2.1"/>
<rect x="1561.9" y="5.5" width="5.4" height="5.4" fill="#7c7c7c"/>
<line x1="1569" y1="12.6" x2="1572.8" y2="16.5" stroke="#7c7c7c" stroke-width="2.8" stroke-linecap="round"/>
<g fill="#c8c8c8" stroke="#c8c8c8"><path d="M1590,4 V16.2 M1584,10.1 H1596.2" stroke-width="2" fill="none"/>
<path d="M1590,2.1 l3,3.5 h-6z M1590,18.1 l3,-3.5 h-6z M1582.2,10.1 l3.5,-3 v6z M1597.9,10.1 l-3.5,-3 v6z" stroke="none"/></g>
<g fill="#c8c8c8">
<rect x="1606" y="1.9" width="2" height="2"/>
<rect x="1606" y="16" width="2" height="2"/>
<rect x="1606" y="1.9" width="2" height="2"/>
<rect x="1620.1" y="1.9" width="2" height="2"/>
<rect x="1610.7" y="1.9" width="2" height="2"/>
<rect x="1610.7" y="16" width="2" height="2"/>
<rect x="1606" y="6.6" width="2" height="2"/>
<rect x="1620.1" y="6.6" width="2" height="2"/>
<rect x="1615.4" y="1.9" width="2" height="2"/>
<rect x="1615.4" y="16" width="2" height="2"/>
<rect x="1606" y="11.3" width="2" height="2"/>
<rect x="1620.1" y="11.3" width="2" height="2"/>
<rect x="1620.1" y="1.9" width="2" height="2"/>
<rect x="1620.1" y="16" width="2" height="2"/>
<rect x="1606" y="16" width="2" height="2"/>
<rect x="1620.1" y="16" width="2" height="2"/>
</g>
<rect x="1639" y="3" width="14" height="13.8" fill="#c8c8c8"/><path d="M1642,9.9 h8 M1646,5.9 v8" stroke="#fff" stroke-width="2"/>
<rect x="1663" y="3" width="14" height="13.8" fill="#c8c8c8"/><path d="M1666,9.9 h8" stroke="#fff" stroke-width="2"/>
<g fill="none" stroke="#c8c8c8" stroke-width="1.4"><path d="M1686.5,6 V2.5 H1690 M1698,2.5 H1701.5 V6 M1701.5,14 V17.5 H1698 M1690,17.5 H1686.5 V14"/>
<path d="M1689.5,5.5 L1698.5,14.5 M1698.5,5.5 L1689.5,14.5" stroke-width="1.6"/>
<path d="M1689.2,8 V5.2 H1692 M1696,5.2 H1698.8 V8 M1698.8,12 V14.8 H1696 M1692,14.8 H1689.2 V12" stroke-width="1.3"/></g>
<rect x="1717.8" y="1.8" width="14" height="16.2" rx="2.2" fill="#000"/>
<rect x="1720.6" y="3.6" width="1.3" height="1.3" fill="#e8257c"/><rect x="1723.2" y="3.6" width="1.3" height="1.3" fill="#e8257c"/>
<rect x="1720.6" y="6.4" width="1.3" height="1.3" fill="#e8257c"/><rect x="1723.2" y="6.6" width="1.8" height="8.4" fill="#fff"/>
<rect x="1720.4" y="9.4" width="1.8" height="5.6" fill="#fff"/>
</svg>
<div id="shade"></div>
</body></html>
